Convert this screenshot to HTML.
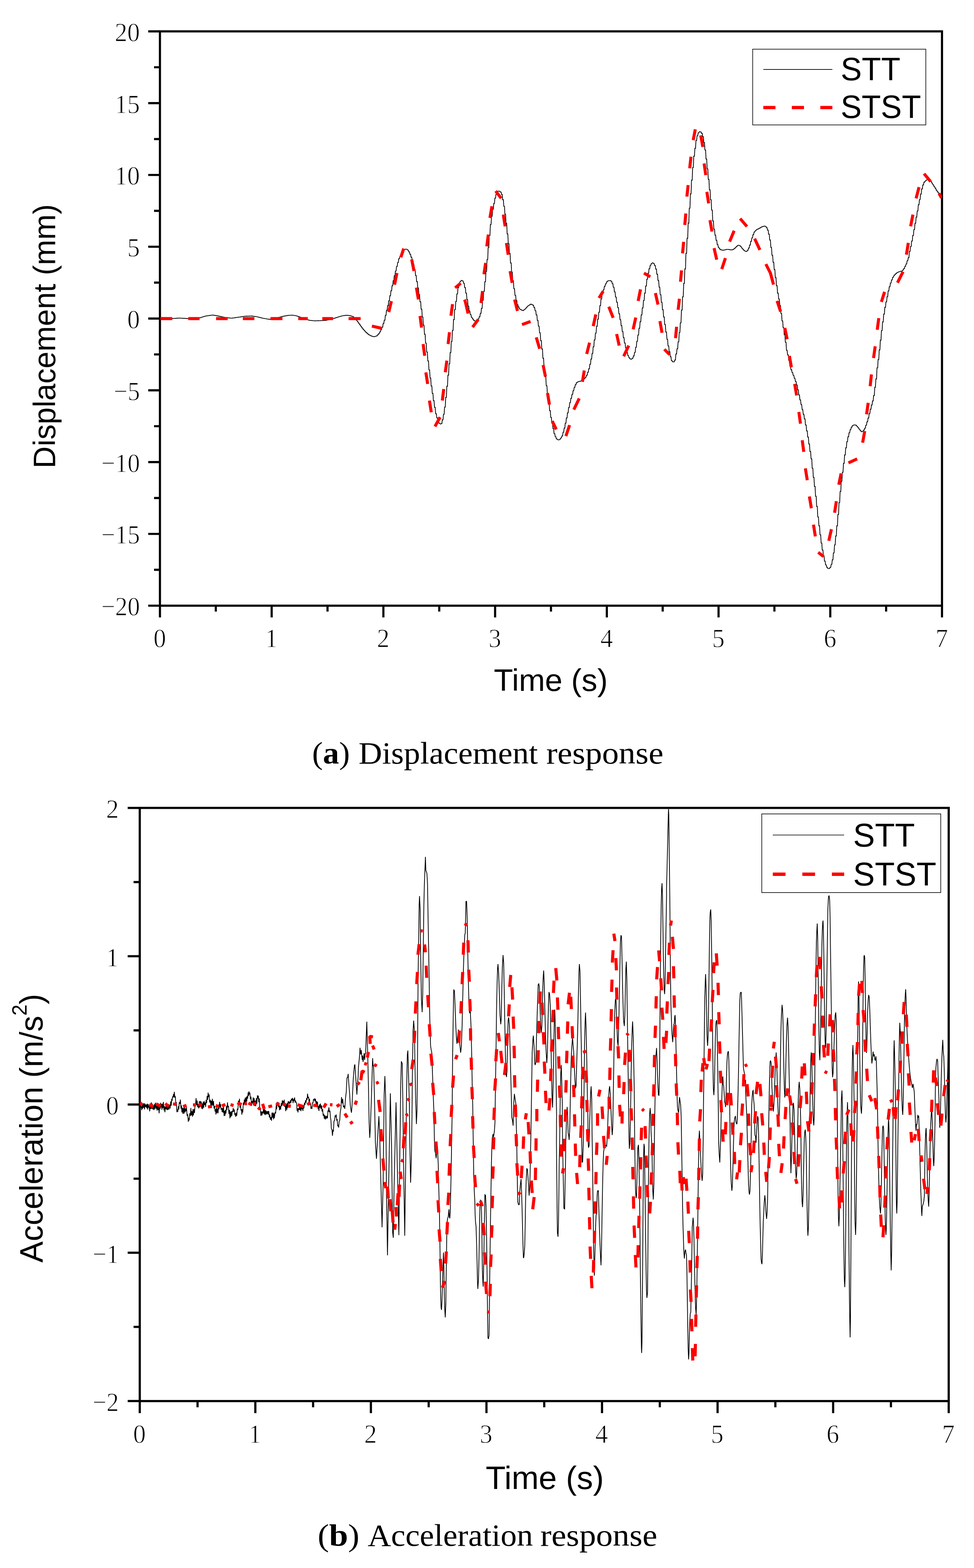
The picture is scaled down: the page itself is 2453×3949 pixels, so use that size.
<!DOCTYPE html>
<html lang="en"><head><meta charset="utf-8"><title>Displacement and acceleration response</title>
<style>
html,body{margin:0;padding:0;background:#fff}
body{width:2453px;height:3949px;overflow:hidden}
svg{display:block}
text{white-space:pre}
</style></head><body>
<svg width="2453" height="3949" viewBox="0 0 2453 3949">
<rect width="2453" height="3949" fill="#fff"/>
<defs><clipPath id="clipA"><rect x="402.8" y="79" width="1969.6" height="1446.4"/></clipPath><clipPath id="clipB"><rect x="352" y="2034.7" width="2037.3" height="1493.9"/></clipPath></defs>
<g id="chart-a">
<rect x="402.8" y="79.0" width="1969.6000000000001" height="1446.4" fill="none" stroke="#000" stroke-width="5.4"/>
<path d="M402.80 1525.4 V1554.9 M543.49 1525.4 V1540.2 M684.17 1525.4 V1554.9 M824.86 1525.4 V1540.2 M965.54 1525.4 V1554.9 M1106.23 1525.4 V1540.2 M1246.91 1525.4 V1554.9 M1387.60 1525.4 V1540.2 M1528.29 1525.4 V1554.9 M1668.97 1525.4 V1540.2 M1809.66 1525.4 V1554.9 M1950.34 1525.4 V1540.2 M2091.03 1525.4 V1554.9 M2231.71 1525.4 V1540.2 M2372.40 1525.4 V1554.9 M402.8 79.00 H373.3 M402.8 169.40 H388.0 M402.8 259.80 H373.3 M402.8 350.20 H388.0 M402.8 440.60 H373.3 M402.8 531.00 H388.0 M402.8 621.40 H373.3 M402.8 711.80 H388.0 M402.8 802.20 H373.3 M402.8 892.60 H388.0 M402.8 983.00 H373.3 M402.8 1073.40 H388.0 M402.8 1163.80 H373.3 M402.8 1254.20 H388.0 M402.8 1344.60 H373.3 M402.8 1435.00 H388.0 M402.8 1525.40 H373.3" fill="none" stroke="#000" stroke-width="5.4"/>
<g font-family='"Liberation Serif", "Times New Roman", serif' font-size="67.7" fill="#000" stroke="#fff" stroke-width="1.3" stroke-linejoin="round">
<text x="402.3" y="1629.5" text-anchor="middle" textLength="31.7" lengthAdjust="spacingAndGlyphs">0</text>
<text x="683.7" y="1629.5" text-anchor="middle" textLength="31.7" lengthAdjust="spacingAndGlyphs">1</text>
<text x="965.0" y="1629.5" text-anchor="middle" textLength="31.7" lengthAdjust="spacingAndGlyphs">2</text>
<text x="1246.4" y="1629.5" text-anchor="middle" textLength="31.7" lengthAdjust="spacingAndGlyphs">3</text>
<text x="1527.8" y="1629.5" text-anchor="middle" textLength="31.7" lengthAdjust="spacingAndGlyphs">4</text>
<text x="1809.2" y="1629.5" text-anchor="middle" textLength="31.7" lengthAdjust="spacingAndGlyphs">5</text>
<text x="2090.5" y="1629.5" text-anchor="middle" textLength="31.7" lengthAdjust="spacingAndGlyphs">6</text>
<text x="2371.9" y="1629.5" text-anchor="middle" textLength="31.7" lengthAdjust="spacingAndGlyphs">7</text>
<text x="352.3" y="103.8" text-anchor="end" textLength="63.4" lengthAdjust="spacingAndGlyphs">20</text>
<text x="352.3" y="284.6" text-anchor="end" textLength="63.4" lengthAdjust="spacingAndGlyphs">15</text>
<text x="352.3" y="465.4" text-anchor="end" textLength="63.4" lengthAdjust="spacingAndGlyphs">10</text>
<text x="352.3" y="646.2" text-anchor="end" textLength="31.7" lengthAdjust="spacingAndGlyphs">5</text>
<text x="352.3" y="827.0" text-anchor="end" textLength="31.7" lengthAdjust="spacingAndGlyphs">0</text>
<text x="352.3" y="1007.8" text-anchor="end" textLength="65.7" lengthAdjust="spacingAndGlyphs">−5</text>
<text x="352.3" y="1188.6" text-anchor="end" textLength="97.4" lengthAdjust="spacingAndGlyphs">−10</text>
<text x="352.3" y="1369.4" text-anchor="end" textLength="97.4" lengthAdjust="spacingAndGlyphs">−15</text>
<text x="352.3" y="1550.2" text-anchor="end" textLength="97.4" lengthAdjust="spacingAndGlyphs">−20</text>
</g>
<g clip-path="url(#clipA)">
<path d="M402.1 802.4H403.8L404.9 802.4H406.6L407.7 802.4H409.4L410.5 802.3H412.2L413.4 802.3H415.0L416.2 802.3H417.9L419.0 802.3H420.7L421.8 802.3H423.5L424.6 802.3H426.3L427.4 802.2H429.1L430.2 802.2H431.9L433.1 802.2H434.7L435.9 802.1H437.6L438.7 801.9H440.4L441.5 801.7H443.2L444.3 801.5H446.0L447.1 801.3H448.8L449.9 801.1H451.6L452.8 801.2H454.4L455.6 801.4H457.3L458.4 801.5H460.1L461.2 801.7H462.9L464.0 801.8H465.7L466.8 802.0H468.5L469.6 802.2H471.3L472.5 802.3H474.1L475.3 802.3H477.0L478.1 802.1H479.8L480.9 801.9H482.6L483.7 801.7H485.4L486.5 801.5H488.2L489.3 801.3H491.0L492.1 801.1H493.8L495.0 800.9H496.7L497.8 800.7H499.5L500.6 800.5H502.3L503.4 800.2H505.1L506.2 799.3H507.9L509.0 798.4H510.7L511.8 797.5H513.5L514.7 796.7H516.3L517.5 795.9H519.2L520.3 795.5H522.0L523.1 795.1H524.8L525.9 794.7H527.6L528.7 794.3H530.4L531.5 793.9H533.2L534.4 793.5H536.0L537.2 793.8H538.9L540.0 794.3H541.7L542.8 794.7H544.5L545.6 795.2H547.3L548.4 795.7H550.1L551.2 796.2H552.9L554.1 796.9H555.7L556.9 797.5H558.6L559.7 798.2H561.4L562.5 798.8H564.2L565.3 799.5H567.0L568.1 799.9H569.8L570.9 800.2H572.6L573.8 800.5H575.4L576.6 800.8H578.3L579.4 801.1H581.1L582.2 801.4H583.9L585.0 801.0H586.7L587.8 800.6H589.5L590.6 800.2H592.3L593.5 799.8H595.1L596.3 799.4H598.0L599.1 799.0H600.8L601.9 798.6H603.6L604.7 798.2H606.4L607.5 797.7H609.2L610.3 797.3H612.0L613.1 796.9H614.8L616.0 796.4H617.7L618.8 796.2H620.5L621.6 796.2H623.3L624.4 796.1H626.1L627.2 796.0H628.9L630.0 795.9H631.7L632.8 795.8H634.5L635.7 796.2H637.4L638.5 796.6H640.2L641.3 797.0H643.0L644.1 797.4H645.8L646.9 797.9H648.6L649.7 798.6H651.4L652.5 799.3H654.2L655.4 800.0H657.0L658.2 800.7H659.9L661.0 801.4H662.7L663.8 801.9H665.5L666.6 802.4H668.3L669.4 802.9H671.1L672.2 803.4H673.9L675.1 803.8H676.7L677.9 804.3H679.6L680.7 803.8H682.4L683.5 803.3H685.2L686.3 802.7H688.0L689.1 802.2H690.8L691.9 801.7H693.6L694.8 801.1H696.4L697.6 800.4H699.3L700.4 799.7H702.1L703.2 798.9H704.9L706.0 798.2H707.7L708.8 797.5H710.5L711.6 796.7H713.3L714.5 796.2H716.1L717.3 795.7H719.0L720.1 795.2H721.8L722.9 794.7H724.6L725.7 794.2H727.4L728.5 794.1H730.2L731.3 793.9H733.0L734.2 793.8H735.8L737.0 793.9H738.7L739.8 794.4H741.5L742.6 794.9H744.3L745.4 795.4H747.1L748.2 796.2H749.9L751.0 797.2H752.7L753.8 798.3H755.5L756.7 799.3H758.4L759.5 800.3H761.2L762.3 801.4H764.0L765.1 802.3H766.8L767.9 803.2H769.6L770.7 804.2H772.4L773.5 805.1H775.2L776.4 806.1H778.1L779.2 806.8H780.9L782.0 807.1H783.7L784.8 807.3H786.5L787.6 807.6H789.3L790.4 807.9H792.1L793.2 808.0H794.9L796.1 807.9H797.7L798.9 807.8H800.6L801.7 807.7H803.4L804.5 807.6H806.2L807.3 807.5H809.0L810.1 807.4H811.8L812.9 807.2H814.6L815.8 807.1H817.4L818.6 807.0H820.3L821.4 806.5H823.1L824.2 805.9H825.9L827.0 805.3H828.7L829.8 804.7H831.5L832.6 804.1H834.3L835.5 803.2H837.1L838.3 802.4H840.0L841.1 801.5H842.8L843.9 800.7H845.6L846.7 799.8H848.4L849.5 798.9H851.2L852.3 798.0H854.0L855.2 797.1H856.8L858.0 796.3H859.7L860.8 795.6H862.5L863.6 795.1H865.3L866.4 794.7H868.1L869.2 794.2H870.9L872.0 794.0H873.7L874.9 794.2H876.5L877.7 794.5H879.4L880.5 794.7H882.2L883.3 795.6H885.0L886.1 796.6H887.8L888.9 797.8H890.6L891.7 800.6H893.4L894.5 803.4H896.2L897.4 806.6H899.1L900.2 810.4H901.9L903.0 814.1H904.7L905.8 818.0H907.5L908.6 821.9H910.3L911.4 825.8H913.1L914.2 829.3H915.9L917.1 832.5H918.8L919.9 835.8H921.6L922.7 838.3H924.4L925.5 840.7H927.2L928.3 843.0H930.0L931.1 844.4H932.8L933.9 845.7H935.6L936.8 847.0H938.4L939.6 847.7H941.3L942.4 847.8H944.1L945.2 846.9H946.9L948.0 846.0H949.7L950.8 843.2H952.5L953.6 840.2H955.3L956.5 835.7H958.1L959.3 830.3H961.0L962.1 824.0H963.8L964.9 814.8H966.6L967.7 806.5H969.4L970.5 794.5H972.2L973.3 781.6H975.0L976.2 769.7H977.8L979.0 757.5H980.7L981.8 744.8H983.5L984.6 732.2H986.3L987.4 719.5H989.1L990.2 706.9H991.9L993.0 694.3H994.7L995.9 682.6H997.5L998.7 671.1H1000.4L1001.5 661.1H1003.2L1004.3 651.4H1006.0L1007.1 645.2H1008.8L1009.9 639.0H1011.6L1012.7 634.6H1014.4L1015.6 630.9H1017.2L1018.4 628.2H1020.1L1021.2 627.4H1022.9L1024.0 627.9H1025.7L1026.8 630.1H1028.5L1029.6 634.5H1031.3L1032.4 640.5H1034.1L1035.2 647.7H1036.9L1038.1 655.4H1039.8L1040.9 666.6H1042.6L1043.7 678.5H1045.4L1046.5 693.7H1048.2L1049.3 709.2H1051.0L1052.1 725.3H1053.8L1054.9 741.8H1056.6L1057.8 760.1H1059.5L1060.6 778.7H1062.3L1063.4 798.4H1065.1L1066.2 819.2H1067.9L1069.0 841.7H1070.7L1071.8 864.1H1073.5L1074.6 886.6H1076.3L1077.5 909.1H1079.1L1080.3 931.6H1082.0L1083.1 952.3H1084.8L1085.9 972.3H1087.6L1088.7 990.7H1090.4L1091.5 1009.0H1093.2L1094.3 1025.8H1096.0L1097.2 1041.8H1098.8L1100.0 1052.4H1101.7L1102.8 1061.4H1104.5L1105.6 1065.6H1107.3L1108.4 1067.9H1110.1L1111.2 1066.8H1112.9L1114.0 1057.3H1115.7L1116.9 1043.6H1118.5L1119.7 1025.4H1121.4L1122.5 1000.7H1124.2L1125.3 972.8H1127.0L1128.1 944.8H1129.8L1130.9 916.3H1132.6L1133.7 888.0H1135.4L1136.6 860.1H1138.2L1139.4 832.2H1141.1L1142.2 805.0H1143.9L1145.0 779.6H1146.7L1147.8 759.1H1149.5L1150.6 740.1H1152.3L1153.4 724.2H1155.1L1156.3 712.7H1157.9L1159.1 708.3H1160.8L1161.9 706.1H1163.6L1164.7 707.6H1166.4L1167.5 713.4H1169.2L1170.3 724.2H1172.0L1173.1 738.4H1174.8L1175.9 754.8H1177.6L1178.8 771.3H1180.5L1181.6 783.5H1183.3L1184.4 792.1H1186.1L1187.2 799.1H1188.9L1190.0 803.3H1191.7L1192.8 806.8H1194.5L1195.6 808.5H1197.3L1198.5 808.9H1200.2L1201.3 807.2H1203.0L1204.1 803.4H1205.8L1206.9 797.8H1208.6L1209.7 789.2H1211.4L1212.5 776.7H1214.2L1215.3 756.2H1217.0L1218.2 733.8H1219.8L1221.0 709.5H1222.7L1223.8 683.5H1225.5L1226.6 653.8H1228.3L1229.4 623.5H1231.1L1232.2 593.4H1233.9L1235.0 565.5H1236.7L1237.9 544.8H1239.5L1240.7 527.4H1242.4L1243.5 512.5H1245.2L1246.3 499.1H1248.0L1249.1 489.1H1250.8L1251.9 482.7H1253.6L1254.7 481.4H1256.4L1257.6 481.7H1259.2L1260.4 483.9H1262.1L1263.2 489.8H1264.9L1266.0 503.0H1267.7L1268.8 519.6H1270.5L1271.6 539.4H1273.3L1274.4 562.2H1276.1L1277.3 589.0H1278.9L1280.1 613.9H1281.8L1282.9 638.1H1284.6L1285.7 662.3H1287.4L1288.5 685.3H1290.2L1291.3 707.0H1293.0L1294.1 727.1H1295.8L1297.0 743.9H1298.6L1299.8 756.5H1301.5L1302.6 767.1H1304.3L1305.4 773.2H1307.1L1308.2 778.1H1309.9L1311.0 779.9H1312.7L1313.8 781.3H1315.5L1316.7 782.4H1318.3L1319.5 780.1H1321.2L1322.3 777.9H1324.0L1325.1 774.8H1326.8L1327.9 771.4H1329.6L1330.7 769.4H1332.4L1333.5 767.7H1335.2L1336.3 766.0H1338.0L1339.2 767.2H1340.9L1342.0 768.7H1343.7L1344.8 774.5H1346.5L1347.6 782.4H1349.3L1350.4 793.0H1352.1L1353.2 806.9H1354.9L1356.0 821.4H1357.7L1358.9 838.1H1360.5L1361.7 858.0H1363.4L1364.5 879.0H1366.2L1367.3 902.3H1369.0L1370.1 926.3H1371.8L1372.9 948.9H1374.6L1375.7 971.4H1377.4L1378.6 993.9H1380.2L1381.4 1014.6H1383.1L1384.2 1034.3H1385.9L1387.0 1051.4H1388.7L1389.8 1066.2H1391.5L1392.6 1079.5H1394.3L1395.4 1091.9H1397.1L1398.3 1099.6H1399.9L1401.1 1105.2H1402.8L1403.9 1107.4H1405.6L1406.7 1107.8H1408.4L1409.5 1106.4H1411.2L1412.3 1102.9H1414.0L1415.1 1098.0H1416.8L1418.0 1088.6H1419.6L1420.8 1078.2H1422.5L1423.6 1065.7H1425.3L1426.4 1052.8H1428.1L1429.2 1039.7H1430.9L1432.0 1026.4H1433.7L1434.8 1014.1H1436.5L1437.7 1003.3H1439.3L1440.5 993.3H1442.2L1443.3 983.9H1445.0L1446.1 975.6H1447.8L1448.9 968.8H1450.6L1451.7 963.8H1453.4L1454.5 961.9H1456.2L1457.4 960.7H1459.0L1460.2 960.2H1461.9L1463.0 959.5H1464.7L1465.8 958.0H1467.5L1468.6 956.2H1470.3L1471.4 953.7H1473.1L1474.2 950.1H1475.9L1477.0 945.3H1478.7L1479.9 937.8H1481.6L1482.7 928.8H1484.4L1485.5 917.3H1487.2L1488.3 904.3H1490.0L1491.1 890.3H1492.8L1493.9 873.2H1495.6L1496.7 856.0H1498.4L1499.6 839.4H1501.2L1502.4 821.8H1504.1L1505.2 803.7H1506.9L1508.0 786.4H1509.7L1510.8 769.5H1512.5L1513.6 752.9H1515.3L1516.4 740.8H1518.1L1519.3 730.1H1520.9L1522.1 721.3H1523.8L1524.9 714.9H1526.6L1527.7 709.8H1529.4L1530.5 707.4H1532.2L1533.3 706.6H1535.0L1536.1 706.8H1537.8L1539.0 708.2H1540.6L1541.8 714.2H1543.5L1544.6 723.4H1546.3L1547.4 735.1H1549.1L1550.2 748.1H1551.9L1553.0 761.1H1554.7L1555.8 774.9H1557.5L1558.7 790.2H1560.3L1561.5 805.1H1563.2L1564.3 820.0H1566.0L1567.1 834.9H1568.8L1569.9 850.2H1571.6L1572.7 863.9H1574.4L1575.5 876.3H1577.2L1578.4 887.5H1580.0L1581.2 895.6H1582.9L1584.0 901.1H1585.7L1586.8 904.2H1588.5L1589.6 904.5H1591.3L1592.4 902.2H1594.1L1595.2 896.5H1596.9L1598.1 887.6H1599.7L1600.9 874.6H1602.6L1603.7 859.6H1605.4L1606.5 843.6H1608.2L1609.3 826.8H1611.0L1612.1 810.0H1613.8L1614.9 793.0H1616.6L1617.7 775.5H1619.4L1620.6 756.9H1622.3L1623.4 738.3H1625.1L1626.2 720.2H1627.9L1629.0 703.1H1630.7L1631.8 688.2H1633.5L1634.6 676.8H1636.3L1637.4 668.4H1639.1L1640.3 663.6H1641.9L1643.1 662.0H1644.8L1645.9 663.9H1647.6L1648.7 669.0H1650.4L1651.5 677.7H1653.2L1654.3 690.8H1656.0L1657.1 706.2H1658.8L1660.0 723.4H1661.6L1662.8 742.4H1664.5L1665.6 761.1H1667.3L1668.4 779.8H1670.1L1671.2 798.3H1672.9L1674.0 817.4H1675.7L1676.8 836.3H1678.5L1679.7 854.6H1681.3L1682.5 871.4H1684.2L1685.3 885.6H1687.0L1688.1 898.3H1689.8L1690.9 908.1H1692.6L1693.7 911.3H1695.4L1696.5 911.2H1698.2L1699.4 906.8H1701.0L1702.2 891.5H1703.9L1705.0 878.4H1706.7L1707.8 860.9H1709.5L1710.6 837.4H1712.3L1713.4 813.1H1715.1L1716.2 781.1H1717.9L1719.1 747.5H1720.7L1721.9 713.7H1723.6L1724.7 677.2H1726.4L1727.5 638.0H1729.2L1730.3 600.2H1732.0L1733.1 562.0H1734.8L1735.9 524.4H1737.6L1738.8 488.2H1740.4L1741.6 453.7H1743.3L1744.4 421.9H1746.1L1747.2 393.3H1748.9L1750.0 373.5H1751.7L1752.8 353.5H1754.5L1755.6 341.6H1757.3L1758.4 334.6H1760.1L1761.3 331.6H1763.0L1764.1 332.5H1765.8L1766.9 336.0H1768.6L1769.7 344.3H1771.4L1772.5 359.0H1774.2L1775.3 377.6H1777.0L1778.1 400.5H1779.8L1781.0 425.4H1782.6L1783.8 451.8H1785.5L1786.6 477.8H1788.3L1789.4 503.1H1791.1L1792.2 529.1H1793.9L1795.0 556.5H1796.7L1797.8 577.4H1799.5L1800.7 592.3H1802.3L1803.5 605.3H1805.2L1806.3 616.0H1808.0L1809.1 623.1H1810.8L1811.9 627.0H1813.6L1814.7 629.0H1816.4L1817.5 629.8H1819.2L1820.4 630.0H1822.0L1823.2 629.7H1824.9L1826.0 629.1H1827.7L1828.8 628.2H1830.5L1831.6 628.1H1833.3L1834.4 628.3H1836.1L1837.2 628.8H1838.9L1840.1 629.3H1841.7L1842.9 629.2H1844.6L1845.7 628.3H1847.4L1848.5 626.5H1850.2L1851.3 624.0H1853.0L1854.1 621.0H1855.8L1856.9 618.5H1858.6L1859.8 617.6H1861.4L1862.6 618.8H1864.3L1865.4 621.4H1867.1L1868.2 625.1H1869.9L1871.0 628.3H1872.7L1873.8 631.0H1875.5L1876.6 632.9H1878.3L1879.5 633.2H1881.1L1882.3 630.2H1884.0L1885.1 624.8H1886.8L1887.9 617.2H1889.6L1890.7 607.8H1892.4L1893.5 599.1H1895.2L1896.3 591.0H1898.0L1899.1 584.4H1900.8L1902.0 581.1H1903.7L1904.8 578.5H1906.5L1907.6 577.0H1909.3L1910.4 575.7H1912.1L1913.2 574.2H1914.9L1916.0 572.5H1917.7L1918.8 571.0H1920.5L1921.7 570.0H1923.3L1924.5 569.5H1926.2L1927.3 570.2H1929.0L1930.1 573.2H1931.8L1932.9 579.5H1934.6L1935.7 589.8H1937.4L1938.5 604.5H1940.2L1941.4 623.2H1943.0L1944.2 642.9H1945.9L1947.0 660.8H1948.7L1949.8 679.0H1951.5L1952.6 698.7H1954.3L1955.4 719.2H1957.1L1958.2 738.3H1959.9L1961.1 753.2H1962.7L1963.9 769.3H1965.6L1966.7 789.6H1968.4L1969.5 808.2H1971.2L1972.3 825.4H1974.0L1975.1 843.2H1976.8L1977.9 861.9H1979.6L1980.8 882.3H1982.4L1983.6 893.8H1985.3L1986.4 907.6H1988.1L1989.2 921.7H1990.9L1992.0 931.0H1993.7L1994.8 938.4H1996.5L1997.6 945.4H1999.3L2000.5 952.9H2002.1L2003.3 960.9H2005.0L2006.1 969.8H2007.8L2008.9 981.9H2010.6L2011.7 994.6H2013.4L2014.5 1007.2H2016.2L2017.3 1018.7H2019.0L2020.2 1031.5H2021.8L2023.0 1043.7H2024.7L2025.8 1055.0H2027.5L2028.6 1070.3H2030.3L2031.4 1085.3H2033.1L2034.2 1100.8H2035.9L2037.0 1118.3H2038.7L2039.8 1137.0H2041.5L2042.7 1155.5H2044.4L2045.5 1179.4H2047.2L2048.3 1202.2H2050.0L2051.1 1225.0H2052.8L2053.9 1249.7H2055.6L2056.7 1275.5H2058.4L2059.5 1301.9H2061.2L2062.4 1324.3H2064.0L2065.2 1346.9H2066.9L2068.0 1367.6H2069.7L2070.8 1385.3H2072.5L2073.6 1400.0H2075.3L2076.4 1413.1H2078.1L2079.2 1422.6H2080.9L2082.1 1428.8H2083.7L2084.9 1431.9H2086.6L2087.7 1431.7H2089.4L2090.5 1428.8H2092.2L2093.3 1421.4H2095.0L2096.1 1409.8H2097.8L2098.9 1392.6H2100.6L2101.8 1372.4H2103.4L2104.6 1349.8H2106.3L2107.4 1324.3H2109.1L2110.2 1295.8H2111.9L2113.0 1265.9H2114.7L2115.8 1237.7H2117.5L2118.6 1212.0H2120.3L2121.5 1189.5H2123.1L2124.3 1167.0H2126.0L2127.1 1145.8H2128.8L2129.9 1127.8H2131.6L2132.7 1112.4H2134.4L2135.5 1100.0H2137.2L2138.3 1089.9H2140.0L2141.2 1081.9H2142.8L2144.0 1075.7H2145.7L2146.8 1071.8H2148.5L2149.6 1070.4H2151.3L2152.4 1070.2H2154.1L2155.2 1071.0H2156.9L2158.0 1073.9H2159.7L2160.9 1077.3H2162.5L2163.7 1081.1H2165.4L2166.5 1084.8H2168.2L2169.3 1087.3H2171.0L2172.1 1086.1H2173.8L2174.9 1083.2H2176.6L2177.7 1078.5H2179.4L2180.5 1070.9H2182.2L2183.4 1062.3H2185.1L2186.2 1052.7H2187.9L2189.0 1041.5H2190.7L2191.8 1030.8H2193.5L2194.6 1020.3H2196.3L2197.4 1009.8H2199.1L2200.2 996.2H2201.9L2203.1 975.3H2204.7L2205.9 954.2H2207.6L2208.7 926.4H2210.4L2211.5 905.5H2213.2L2214.3 881.2H2216.0L2217.1 856.8H2218.8L2219.9 832.6H2221.6L2222.8 810.7H2224.4L2225.6 791.0H2227.3L2228.4 774.0H2230.1L2231.2 760.4H2232.9L2234.0 747.1H2235.7L2236.8 732.8H2238.5L2239.6 722.3H2241.3L2242.5 712.9H2244.1L2245.3 705.1H2247.0L2248.1 698.6H2249.8L2250.9 694.4H2252.6L2253.7 691.0H2255.4L2256.5 688.5H2258.2L2259.3 686.2H2261.0L2262.2 685.1H2263.8L2265.0 683.9H2266.7L2267.8 683.2H2269.5L2270.6 682.6H2272.3L2273.4 680.1H2275.1L2276.2 676.3H2277.9L2279.0 670.6H2280.7L2281.9 664.6H2283.5L2284.7 656.4H2286.4L2287.5 648.7H2289.2L2290.3 633.1H2292.0L2293.1 620.9H2294.8L2295.9 607.1H2297.6L2298.7 593.0H2300.4L2301.6 578.1H2303.2L2304.4 562.5H2306.1L2307.2 546.7H2308.9L2310.0 531.4H2311.7L2312.8 515.8H2314.5L2315.6 502.9H2317.3L2318.4 488.8H2320.1L2321.2 475.7H2322.9L2324.1 465.8H2325.8L2326.9 459.0H2328.6L2329.7 456.1H2331.4L2332.5 453.6H2334.2L2335.3 451.9H2337.0L2338.1 451.4H2339.8L2340.9 453.9H2342.6L2343.8 456.8H2345.4L2346.6 461.1H2348.3L2349.4 465.4H2351.1L2352.2 469.6H2353.9L2355.0 474.0H2356.7L2357.8 479.0H2359.5L2360.6 483.2H2362.3L2363.5 486.4H2365.1L2366.3 490.1H2368.0L2369.1 494.3H2370.8L2371.4 497.7" fill="none" stroke="#000" stroke-width="1.9" stroke-linejoin="miter"/>
<path d="M404.0 802.4 L433.9 802.4 M474.1 802.4 L502.6 802.4 M544.2 802.4 L573.3 802.4 M611.6 802.4 L640.7 802.4 M681.2 802.4 L711.4 802.4 M751.1 802.4 L775.1 802.4 M811.7 802.4 L838.7 802.4 M877.9 802.4 L908.3 802.4 M936.6 821.2 L962.0 827.0 M979.1 786.0 L985.7 758.3 M993.7 717.0 L999.7 687.4 M1009.5 648.2 L1016.7 626.0 M1036.8 653.2 L1042.6 682.6 M1048.7 724.4 L1053.7 754.0 M1057.9 795.8 L1061.6 824.9 M1065.6 866.5 L1069.6 896.1 M1072.5 937.9 L1077.0 967.0 M1081.5 1008.8 L1086.2 1038.4 M1095.5 1074.1 L1108.2 1050.6 M1114.0 1008.8 L1117.5 979.7 M1121.4 937.4 L1125.4 908.3 M1128.6 866.5 L1132.0 836.8 M1135.7 795.3 L1139.7 765.9 M1146.3 724.9 L1160.3 713.3 M1169.6 754.8 L1171.7 758.8 L1178.8 789.7 M1190.2 824.1 L1204.5 804.6 M1211.4 763.3 L1215.3 733.1 M1218.8 690.8 L1223.0 662.2 M1225.9 620.4 L1229.9 590.8 M1233.9 549.0 L1238.9 519.4 M1248.4 481.0 L1262.2 499.5 M1267.5 540.5 L1272.2 570.2 M1275.4 612.0 L1279.9 641.6 M1284.7 682.9 L1289.9 712.5 M1296.0 754.3 L1303.2 783.1 M1314.6 817.5 L1336.2 809.6 M1350.6 849.7 L1359.1 878.3 M1367.8 919.3 L1373.7 948.4 M1378.9 989.9 L1383.7 1019.0 M1390.8 1060.3 L1400.9 1081.5 M1425.2 1098.4 L1434.5 1070.6 M1445.1 1031.7 L1458.8 1003.4 M1466.8 961.6 L1471.5 933.1 M1477.6 891.5 L1484.8 863.0 M1494.0 821.4 L1500.6 791.8 M1508.6 750.5 L1519.2 733.3 M1533.2 772.5 L1544.3 800.3 M1553.0 841.3 L1559.4 870.4 M1570.7 897.4 L1583.4 870.4 M1594.6 829.4 L1601.2 799.7 M1607.2 757.9 L1613.1 728.8 M1621.8 687.8 L1637.7 697.1 M1650.6 738.1 L1657.2 767.2 M1662.0 808.7 L1667.3 838.1 M1673.1 879.6 L1686.6 893.4 M1701.3 851.6 L1704.0 823.0 M1707.9 780.2 L1711.1 752.4 M1713.8 709.5 L1716.4 681.0 M1719.0 638.1 L1721.7 609.0 M1724.6 566.7 L1727.2 537.6 M1729.9 495.2 L1733.1 466.1 M1737.0 423.8 L1740.2 394.7 M1745.8 352.9 L1751.1 325.7 M1764.8 341.0 L1770.1 370.1 M1773.3 411.6 L1777.5 441.0 M1780.2 483.1 L1784.7 512.2 M1788.1 554.5 L1793.1 583.1 M1798.4 624.9 L1805.0 654.0 M1817.7 677.8 L1827.0 650.0 M1837.6 608.5 L1848.9 581.0 M1864.0 550.5 L1881.2 570.4 M1900.5 600.8 L1913.8 629.4 M1928.8 665.1 L1940.2 687.6 L1948.1 716.7 M1957.1 757.7 L1965.9 784.7 M1976.5 825.9 L1982.5 854.2 M1988.1 896.4 L1993.1 925.0 M2001.3 966.8 L2006.3 995.9 M2011.9 1037.4 L2015.9 1067.0 M2020.4 1108.8 L2024.3 1137.9 M2028.3 1179.7 L2033.1 1209.4 M2038.4 1250.4 L2043.4 1280.0 M2048.7 1321.3 L2053.4 1350.9 M2060.6 1391.1 L2074.1 1401.7 M2087.3 1362.0 L2093.9 1332.9 M2101.9 1291.4 L2106.3 1262.3 M2112.4 1220.7 L2118.3 1192.2 M2136.8 1165.7 L2158.7 1155.7 M2172.5 1114.9 L2177.8 1085.6 M2182.5 1043.5 L2186.5 1014.4 M2191.5 972.6 L2194.7 943.0 M2200.0 901.7 L2204.2 872.1 M2209.3 830.5 L2213.2 801.2 M2219.8 760.4 L2227.8 735.0 M2260.3 712.0 L2274.3 684.2 M2282.8 641.4 L2287.6 611.7 M2293.4 569.9 L2299.2 540.6 M2307.1 499.8 L2314.6 471.3 M2327.2 437.4 L2343.7 457.2 M2364.8 487.1 L2371.4 498.5" fill="none" stroke="#f00" stroke-width="7.6" stroke-linejoin="bevel"/>
</g>
<rect x="1895.6" y="123.8" width="436.0" height="190.8" fill="#fff" stroke="#000" stroke-width="1.6"/>
<path d="M1922.4 174.9 H2096.3" stroke="#000" stroke-width="1.6" fill="none"/>
<path d="M1922.4 270.8 H2096.3" stroke="#f00" stroke-width="8.2" stroke-dasharray="30.6 41.2" fill="none"/>
<text x="2117.2" y="201.9" font-family='"Liberation Sans", Arial, Helvetica, sans-serif' font-size="81" textLength="150.5" lengthAdjust="spacingAndGlyphs">STT</text>
<text x="2117.2" y="297.2" font-family='"Liberation Sans", Arial, Helvetica, sans-serif' font-size="81" textLength="202.3" lengthAdjust="spacingAndGlyphs">STST</text>
<text x="1387.2" y="1740" text-anchor="middle" font-family='"Liberation Sans", Arial, Helvetica, sans-serif' font-size="78" textLength="286.8" lengthAdjust="spacingAndGlyphs">Time (s)</text>
<text transform="translate(139.4 846.9) rotate(-90)" text-anchor="middle" font-family='"Liberation Sans", Arial, Helvetica, sans-serif' font-size="78" textLength="665.3" lengthAdjust="spacingAndGlyphs">Displacement (mm)</text>
</g>
<g font-family='"Liberation Serif", "Times New Roman", serif' font-size="79" fill="#000">
<text x="786.1" y="1922.5" textLength="94.99" lengthAdjust="spacingAndGlyphs">(<tspan font-weight="bold">a</tspan>)</text>
<text x="902.9" y="1922.5" textLength="451.81" lengthAdjust="spacingAndGlyphs">Displacement</text>
<text x="1375.67" y="1922.5" textLength="295.18" lengthAdjust="spacingAndGlyphs">response</text>
</g>
<g id="chart-b">
<rect x="352.0" y="2034.7" width="2037.3000000000002" height="1493.8999999999999" fill="none" stroke="#000" stroke-width="5.5"/>
<path d="M352.00 3528.6 V3559.0 M497.52 3528.6 V3544.2 M643.04 3528.6 V3559.0 M788.56 3528.6 V3544.2 M934.09 3528.6 V3559.0 M1079.61 3528.6 V3544.2 M1225.13 3528.6 V3559.0 M1370.65 3528.6 V3544.2 M1516.17 3528.6 V3559.0 M1661.69 3528.6 V3544.2 M1807.21 3528.6 V3559.0 M1952.74 3528.6 V3544.2 M2098.26 3528.6 V3559.0 M2243.78 3528.6 V3544.2 M2389.30 3528.6 V3559.0 M352.0 2034.70 H321.6 M352.0 2221.44 H336.4 M352.0 2408.18 H321.6 M352.0 2594.91 H336.4 M352.0 2781.65 H321.6 M352.0 2968.39 H336.4 M352.0 3155.12 H321.6 M352.0 3341.86 H336.4 M352.0 3528.60 H321.6" fill="none" stroke="#000" stroke-width="5.5"/>
<g font-family='"Liberation Serif", "Times New Roman", serif' font-size="67.7" fill="#000" stroke="#fff" stroke-width="1.3" stroke-linejoin="round">
<text x="351.1" y="3634.3" text-anchor="middle" textLength="31.9" lengthAdjust="spacingAndGlyphs">0</text>
<text x="642.1" y="3634.3" text-anchor="middle" textLength="31.9" lengthAdjust="spacingAndGlyphs">1</text>
<text x="933.2" y="3634.3" text-anchor="middle" textLength="31.9" lengthAdjust="spacingAndGlyphs">2</text>
<text x="1224.2" y="3634.3" text-anchor="middle" textLength="31.9" lengthAdjust="spacingAndGlyphs">3</text>
<text x="1515.3" y="3634.3" text-anchor="middle" textLength="31.9" lengthAdjust="spacingAndGlyphs">4</text>
<text x="1806.3" y="3634.3" text-anchor="middle" textLength="31.9" lengthAdjust="spacingAndGlyphs">5</text>
<text x="2097.4" y="3634.3" text-anchor="middle" textLength="31.9" lengthAdjust="spacingAndGlyphs">6</text>
<text x="2388.4" y="3634.3" text-anchor="middle" textLength="31.9" lengthAdjust="spacingAndGlyphs">7</text>
<text x="299.2" y="2060.1" text-anchor="end" textLength="31.9" lengthAdjust="spacingAndGlyphs">2</text>
<text x="299.2" y="2433.6" text-anchor="end" textLength="31.9" lengthAdjust="spacingAndGlyphs">1</text>
<text x="299.2" y="2807.1" text-anchor="end" textLength="31.9" lengthAdjust="spacingAndGlyphs">0</text>
<text x="299.2" y="3180.5" text-anchor="end" textLength="65.9" lengthAdjust="spacingAndGlyphs">−1</text>
<text x="299.2" y="3554.0" text-anchor="end" textLength="65.9" lengthAdjust="spacingAndGlyphs">−2</text>
</g>
<g clip-path="url(#clipB)">
<path d="M353.2 2783.2 L354.4 2789.3 L355.8 2785.8 L357.1 2795.7 L358.2 2783.2 L359.2 2792.3 L360.3 2779.6 L361.6 2790.0 L362.7 2778.0 L364.0 2793.9 L365.4 2779.7 L366.9 2788.2 L368.4 2781.8 L369.5 2790.9 L370.7 2779.7 L371.9 2794.3 L373.2 2780.6 L374.6 2789.7 L375.6 2785.7 L377.0 2799.0 L378.2 2785.0 L379.5 2792.8 L381.0 2776.3 L382.1 2792.6 L383.4 2779.6 L384.9 2794.2 L386.4 2784.7 L387.7 2795.9 L388.8 2780.8 L389.8 2792.8 L391.3 2777.2 L392.8 2792.1 L394.2 2784.6 L395.5 2797.0 L397.0 2778.6 L398.3 2795.6 L399.4 2783.3 L400.7 2803.8 L402.2 2786.8 L403.4 2793.3 L404.5 2777.3 L405.6 2789.0 L406.7 2780.4 L407.8 2795.3 L409.0 2779.7 L410.1 2790.9 L411.4 2775.1 L412.9 2796.4 L414.1 2785.6 L415.3 2801.2 L416.9 2786.3 L418.0 2793.6 L419.2 2784.1 L420.5 2795.6 L421.5 2784.5 L422.8 2795.4 L424.3 2780.7 L425.6 2794.5 L427.0 2782.0 L428.5 2791.6 L430.0 2773.8 L431.3 2784.8 L432.4 2767.4 L433.4 2772.7 L434.6 2761.3 L435.8 2763.8 L436.8 2755.7 L437.9 2763.7 L439.0 2749.8 L440.3 2764.4 L441.5 2760.6 L442.7 2778.7 L444.2 2777.2 L445.5 2801.0 L446.6 2794.0 L447.8 2800.2 L449.3 2785.8 L450.3 2794.1 L451.6 2775.9 L453.0 2779.9 L454.3 2769.4 L455.8 2792.0 L456.9 2783.7 L458.1 2801.5 L459.4 2789.6 L460.6 2805.3 L462.1 2790.0 L463.5 2804.9 L465.0 2786.6 L466.2 2801.3 L467.4 2791.8 L468.4 2798.4 L469.6 2788.2 L471.2 2810.4 L472.7 2805.8 L474.2 2825.1 L475.4 2815.4 L476.5 2821.8 L477.9 2803.6 L479.4 2810.4 L480.7 2790.2 L481.8 2809.3 L483.3 2798.3 L484.8 2812.3 L485.9 2793.2 L487.1 2809.0 L488.7 2793.0 L489.9 2803.0 L491.3 2780.4 L492.4 2781.3 L493.9 2765.7 L495.1 2783.9 L496.6 2771.8 L497.8 2788.4 L498.9 2780.6 L500.5 2791.7 L501.8 2773.4 L503.1 2789.0 L504.5 2772.7 L505.7 2782.6 L506.9 2774.5 L508.0 2792.1 L509.2 2779.2 L510.4 2793.5 L511.7 2774.5 L513.0 2790.0 L514.3 2773.1 L515.6 2782.9 L516.9 2776.8 L517.9 2787.9 L519.0 2770.1 L520.4 2778.2 L521.7 2760.0 L523.0 2769.9 L524.1 2751.8 L525.3 2763.1 L526.7 2756.2 L528.0 2776.6 L529.5 2769.8 L530.9 2785.2 L532.2 2772.1 L533.5 2785.2 L534.8 2767.4 L536.2 2784.3 L537.7 2772.7 L539.0 2791.6 L540.5 2785.2 L541.6 2799.4 L542.7 2793.3 L543.8 2806.8 L545.2 2788.8 L546.3 2803.7 L547.7 2791.5 L549.2 2803.7 L550.4 2781.8 L551.6 2793.7 L553.2 2775.0 L554.3 2789.2 L555.6 2780.9 L556.7 2794.5 L558.2 2790.8 L559.5 2800.8 L560.5 2790.1 L561.9 2802.1 L563.0 2787.6 L564.4 2810.8 L565.5 2797.8 L566.6 2809.9 L567.8 2795.3 L569.0 2804.4 L570.5 2785.3 L571.6 2795.2 L572.9 2776.4 L574.0 2788.6 L575.4 2785.2 L576.5 2805.5 L577.9 2795.2 L579.0 2816.5 L580.0 2799.7 L581.3 2813.3 L582.6 2798.7 L583.8 2810.3 L585.1 2797.7 L586.2 2800.5 L587.3 2790.5 L588.5 2799.8 L589.9 2794.0 L591.2 2806.7 L592.5 2805.0 L593.6 2812.6 L595.0 2802.1 L596.2 2810.3 L597.7 2793.3 L599.2 2794.4 L600.5 2772.0 L601.7 2783.0 L603.1 2767.2 L604.3 2789.7 L605.7 2779.3 L607.0 2797.1 L608.1 2793.2 L609.1 2807.2 L610.3 2793.7 L611.4 2801.8 L612.9 2776.7 L614.1 2782.7 L615.3 2769.0 L616.4 2779.7 L617.6 2764.4 L619.1 2780.7 L620.3 2762.6 L621.5 2774.1 L622.5 2759.7 L623.8 2766.8 L624.9 2751.4 L626.0 2760.1 L627.1 2748.5 L628.1 2756.3 L629.3 2752.1 L630.7 2768.4 L632.1 2762.1 L633.5 2785.0 L634.8 2773.1 L636.3 2779.1 L637.7 2763.7 L638.8 2779.1 L640.3 2765.9 L641.7 2785.8 L642.8 2771.8 L644.1 2785.8 L645.6 2765.6 L646.9 2780.0 L648.3 2758.6 L649.5 2766.7 L650.6 2759.5 L651.7 2776.2 L653.0 2766.5 L654.4 2791.7 L655.7 2792.2 L657.1 2810.3 L658.4 2798.9 L659.8 2809.1 L661.3 2799.1 L662.3 2804.1 L663.7 2792.2 L665.2 2806.1 L666.5 2793.0 L667.8 2808.4 L669.2 2796.1 L670.6 2806.9 L671.7 2798.5 L673.1 2805.5 L674.5 2798.2 L675.5 2807.0 L676.9 2798.2 L678.3 2814.2 L679.6 2806.9 L680.9 2820.0 L682.4 2813.5 L683.9 2822.6 L685.0 2802.2 L686.5 2814.9 L687.7 2801.8 L688.9 2819.0 L690.0 2803.9 L691.1 2815.9 L692.7 2800.6 L694.2 2804.2 L695.7 2782.8 L696.8 2793.6 L698.1 2776.8 L699.1 2784.6 L700.4 2775.7 L701.5 2788.4 L702.7 2777.3 L703.8 2796.3 L705.3 2785.5 L706.8 2794.7 L708.3 2778.4 L709.5 2785.7 L711.1 2770.9 L712.3 2782.1 L713.5 2772.8 L714.6 2785.3 L715.8 2769.5 L716.9 2787.3 L718.2 2782.9 L719.5 2798.4 L721.0 2779.7 L722.3 2795.5 L723.9 2777.7 L724.9 2783.2 L724.5 2790.2 L725.9 2773.2 L727.1 2779.2 L728.3 2774.7 L729.8 2780.5 L731.2 2771.0 L732.8 2777.6 L733.8 2767.0 L735.3 2771.6 L736.9 2765.0 L738.0 2778.1 L739.4 2769.5 L740.5 2771.2 L742.0 2764.2 L743.1 2777.1 L744.2 2772.9 L745.7 2775.6 L747.0 2778.3 L748.2 2797.7 L749.3 2791.4 L750.4 2801.6 L751.5 2791.3 L753.1 2795.2 L754.3 2784.1 L755.4 2796.1 L756.9 2788.1 L758.0 2798.4 L759.1 2786.8 L760.6 2793.4 L761.8 2789.9 L762.9 2797.8 L764.0 2787.0 L765.3 2791.4 L766.8 2777.2 L768.1 2782.7 L769.3 2771.3 L770.8 2777.3 L772.0 2765.6 L773.4 2770.2 L774.5 2754.4 L776.0 2765.7 L777.3 2762.6 L778.3 2775.8 L779.5 2767.6 L780.7 2782.8 L782.0 2778.9 L783.2 2792.7 L784.2 2786.9 L785.6 2792.8 L786.9 2777.5 L788.4 2777.3 L789.5 2768.3 L790.8 2771.2 L791.9 2766.5 L793.2 2773.9 L794.5 2767.2 L796.0 2781.2 L797.4 2773.1 L798.5 2780.8 L799.6 2775.0 L801.0 2793.4 L802.0 2785.8 L803.3 2797.9 L804.5 2781.6 L805.6 2790.1 L807.0 2779.3 L808.4 2792.9 L809.9 2784.2 L811.1 2799.3 L812.6 2793.3 L813.9 2810.3 L815.4 2805.4 L816.7 2817.5 L818.1 2808.5 L819.2 2819.5 L820.7 2810.7 L822.1 2817.3 L823.6 2810.2 L824.8 2816.5 L825.9 2796.5 L827.0 2800.0 L828.3 2788.8 L829.7 2801.1 L831.0 2797.3 L832.2 2814.1 L833.4 2821.1 L834.5 2841.8 L836.1 2845.1 L837.3 2860.5 L838.5 2846.9 L839.7 2848.2 L841.1 2823.2 L842.6 2822.0 L844.0 2809.2 L845.1 2813.7 L846.6 2806.9 L848.0 2822.3 L849.2 2818.4 L850.4 2835.1 L851.6 2834.1 L852.9 2839.7 L854.1 2824.8 L855.7 2821.3 L856.8 2802.0 L858.7 2790.5 L860.1 2763.1 L861.7 2778.6 L863.1 2767.7 L864.7 2787.5 L866.7 2785.5 L868.3 2792.5 L870.2 2765.7 L872.2 2748.8 L873.8 2714.7 L875.6 2713.1 L876.8 2704.6 L878.6 2731.0 L880.6 2754.8 L882.1 2782.5 L883.7 2794.4 L885.1 2802.4 L886.5 2786.5 L888.1 2750.8 L889.7 2717.1 L891.5 2695.2 L892.7 2683.3 L893.8 2680.8 L895.4 2705.2 L897.0 2729.0 L898.8 2756.7 L900.4 2729.0 L902.0 2711.1 L902.8 2687.3 L904.4 2671.4 L905.6 2657.5 L906.7 2638.7 L908.3 2655.6 L909.9 2644.6 L911.3 2659.5 L912.3 2669.4 L913.3 2658.5 L914.3 2674.4 L915.9 2663.5 L916.9 2652.6 L918.3 2669.4 L919.6 2653.6 L920.8 2653.6 L921.8 2623.8 L923.8 2573.0 L925.9 2649.7 L927.8 2729.1 L929.6 2826.5 L931.2 2865.6 L932.8 2839.7 L935.7 2755.6 L938.4 2665.1 L939.7 2684.1 L941.0 2686.8 L942.9 2755.6 L945.5 2879.4 L948.1 2918.5 L950.3 2879.4 L954.2 2811.1 L956.1 2852.9 L958.7 2958.7 L962.2 3091.0 L964.8 2985.2 L967.5 2755.6 L969.3 2710.1 L971.4 2768.8 L973.5 3011.6 L975.9 3161.6 L978.3 3011.6 L983.1 2753.4 L986.0 2879.4 L988.9 3104.2 L990.5 3117.5 L992.6 2985.2 L997.4 2776.2 L1000.5 2932.3 L1004.5 3110.8 L1006.6 2932.3 L1009.3 2729.1 L1010.8 2672.8 L1013.0 2678.8 L1014.3 2755.6 L1016.4 2932.3 L1019.3 3112.2 L1021.7 2932.3 L1024.3 2729.1 L1025.9 2655.0 L1027.2 2645.8 L1028.8 2702.6 L1031.0 2782.0 L1032.3 2892.6 L1034.1 2978.6 L1036.0 2919.0 L1037.6 2808.5 L1038.6 2702.6 L1040.2 2596.8 L1041.8 2570.4 L1043.7 2596.8 L1045.0 2676.2 L1046.8 2768.8 L1048.7 2831.0 L1050.3 2795.2 L1051.6 2649.7 L1052.9 2464.6 L1054.5 2358.7 L1055.6 2279.4 L1056.6 2256.9 L1058.2 2292.6 L1059.5 2411.6 L1061.4 2517.5 L1063.2 2549.2 L1064.6 2504.2 L1066.1 2385.2 L1067.5 2279.4 L1068.8 2226.5 L1069.8 2200.0 L1070.6 2180.0 L1071.4 2158.0 L1072.5 2192.0 L1075.1 2199.0 L1076.7 2226.5 L1078.0 2305.8 L1079.9 2411.6 L1081.2 2491.0 L1082.5 2570.4 L1084.4 2633.9 L1086.0 2644.4 L1087.3 2649.7 L1089.2 2702.6 L1091.0 2755.6 L1093.1 2808.5 L1093.9 2866.1 L1095.0 2897.9 L1097.1 2905.8 L1098.4 2917.2 L1099.7 2903.2 L1102.4 2904.5 L1103.7 2932.3 L1104.2 2958.7 L1105.6 3011.6 L1106.9 3064.6 L1107.7 3117.5 L1108.5 3170.4 L1109.0 3223.3 L1109.8 3263.0 L1110.8 3292.1 L1111.9 3299.2 L1113.2 3276.2 L1114.6 3223.3 L1115.9 3183.6 L1116.9 3154.5 L1118.0 3196.8 L1119.0 3263.0 L1120.4 3302.6 L1121.4 3318.0 L1122.8 3284.1 L1123.5 3223.3 L1124.3 3170.4 L1125.1 3117.5 L1126.2 3077.8 L1127.0 3069.8 L1128.8 3064.6 L1130.7 3045.5 L1131.7 3064.6 L1132.8 3068.5 L1134.1 3051.3 L1134.9 3011.6 L1136.0 2958.7 L1137.0 2905.8 L1137.8 2852.9 L1138.6 2813.2 L1139.9 2663.0 L1141.3 2570.4 L1142.3 2504.2 L1142.9 2493.1 L1144.4 2495.0 L1146.0 2530.7 L1147.9 2583.6 L1149.5 2612.7 L1150.8 2628.6 L1152.6 2610.1 L1154.2 2594.2 L1156.1 2596.8 L1157.9 2628.6 L1160.1 2651.1 L1161.9 2636.5 L1163.8 2583.6 L1165.3 2517.5 L1167.2 2438.1 L1169.0 2385.2 L1170.6 2353.4 L1171.7 2350.8 L1172.8 2305.8 L1173.5 2270.1 L1175.1 2270.1 L1176.5 2305.8 L1177.8 2385.2 L1179.1 2451.3 L1180.4 2504.2 L1181.7 2543.9 L1183.1 2551.9 L1184.4 2546.6 L1186.2 2583.6 L1187.8 2649.7 L1189.2 2729.1 L1190.5 2782.0 L1191.5 2852.9 L1192.3 2905.8 L1193.1 2958.7 L1194.4 2998.4 L1195.8 3024.9 L1196.6 3059.3 L1197.6 3077.8 L1198.9 3088.4 L1200.3 3130.7 L1201.6 3183.6 L1202.4 3223.3 L1203.4 3246.3 L1205.0 3223.3 L1206.3 3170.4 L1207.4 3104.2 L1208.7 3038.1 L1209.8 3022.8 L1211.4 3024.9 L1212.7 3051.3 L1213.8 3117.5 L1214.8 3196.8 L1216.1 3228.6 L1216.9 3240.5 L1218.0 3196.8 L1219.3 3117.5 L1220.4 3051.3 L1221.2 3009.0 L1222.8 3010.3 L1224.1 3038.1 L1225.1 3091.0 L1226.2 3170.4 L1227.2 3249.7 L1228.0 3315.9 L1228.8 3368.8 L1230.2 3372.0 L1231.7 3363.5 L1232.5 3302.6 L1233.3 3223.3 L1234.4 3143.9 L1235.4 3064.6 L1236.5 2998.4 L1237.6 2932.3 L1238.6 2892.6 L1239.7 2866.1 L1241.8 2856.1 L1243.1 2863.5 L1245.2 2847.6 L1246.6 2826.5 L1247.9 2729.1 L1249.2 2649.7 L1250.5 2543.9 L1251.9 2477.8 L1253.2 2438.1 L1254.2 2428.0 L1255.8 2451.3 L1257.7 2504.2 L1259.3 2557.1 L1261.1 2579.6 L1262.4 2565.1 L1263.8 2491.0 L1265.1 2438.1 L1266.9 2405.3 L1268.5 2424.9 L1269.8 2491.0 L1271.7 2596.8 L1273.0 2663.0 L1274.3 2702.6 L1275.7 2712.7 L1277.0 2694.7 L1278.3 2623.3 L1279.6 2570.4 L1281.0 2562.4 L1283.1 2583.6 L1284.9 2649.7 L1286.2 2702.6 L1287.6 2755.6 L1288.9 2813.8 L1290.7 2821.7 L1292.3 2834.9 L1293.7 2782.0 L1295.5 2755.0 L1297.4 2768.8 L1298.9 2778.0 L1299.0 2778.0 L1299.8 2813.2 L1301.2 2866.1 L1302.2 2932.3 L1303.3 2998.4 L1304.1 3027.5 L1305.9 3034.1 L1307.8 3033.6 L1309.1 3001.1 L1310.4 2985.2 L1312.3 2969.3 L1313.9 3011.6 L1315.4 3064.6 L1317.0 3130.7 L1318.1 3166.4 L1318.9 3168.3 L1320.2 3157.1 L1321.5 3138.6 L1322.6 3091.0 L1323.7 3024.9 L1325.0 2977.2 L1326.8 2942.3 L1328.4 2946.0 L1329.7 2964.0 L1331.3 2987.8 L1332.6 3011.1 L1334.0 2990.5 L1335.3 2948.1 L1336.3 2892.6 L1337.4 2839.7 L1338.7 2755.6 L1340.3 2649.7 L1342.2 2618.0 L1343.2 2608.2 L1345.1 2636.5 L1346.7 2676.2 L1347.7 2682.3 L1349.6 2676.2 L1350.9 2623.3 L1352.8 2557.1 L1354.1 2517.5 L1355.4 2479.9 L1357.0 2477.8 L1358.3 2485.7 L1359.9 2530.7 L1361.5 2578.3 L1363.1 2600.8 L1364.7 2583.6 L1366.2 2517.5 L1367.8 2464.6 L1369.2 2444.2 L1370.7 2477.8 L1372.3 2543.9 L1373.9 2610.1 L1375.5 2649.7 L1377.1 2677.5 L1378.7 2649.7 L1380.0 2583.6 L1381.3 2530.7 L1382.6 2498.4 L1384.2 2504.2 L1385.8 2530.7 L1387.1 2596.8 L1388.5 2676.2 L1390.1 2755.6 L1391.6 2789.4 L1393.2 2729.1 L1394.6 2649.7 L1395.9 2570.4 L1397.2 2542.6 L1398.5 2583.6 L1399.6 2649.7 L1400.6 2729.1 L1401.7 2808.5 L1401.4 2879.4 L1402.2 2958.7 L1403.0 3038.1 L1403.8 3104.2 L1405.4 3114.8 L1406.5 3077.8 L1407.5 3011.6 L1408.3 2932.3 L1409.6 2866.1 L1411.0 2755.6 L1412.3 2702.6 L1413.6 2682.3 L1414.9 2729.1 L1416.2 2782.0 L1416.5 2852.9 L1417.6 2919.0 L1418.9 2985.2 L1420.2 3043.4 L1422.1 3044.7 L1423.1 2985.2 L1424.2 2932.3 L1425.2 2866.1 L1427.1 2808.5 L1428.4 2787.8 L1429.7 2813.8 L1430.8 2854.2 L1431.9 2856.9 L1433.4 2870.9 L1435.0 2839.7 L1436.1 2782.0 L1437.4 2715.9 L1438.7 2663.0 L1440.1 2636.5 L1441.9 2612.7 L1443.5 2633.9 L1444.8 2649.7 L1446.1 2676.2 L1447.7 2715.9 L1449.3 2741.0 L1450.9 2734.4 L1452.5 2676.2 L1454.1 2623.3 L1455.4 2570.4 L1456.7 2504.2 L1458.0 2451.3 L1459.1 2428.0 L1460.7 2446.0 L1462.0 2517.5 L1463.3 2596.8 L1464.7 2676.2 L1464.9 2866.1 L1466.0 2927.0 L1467.3 2926.5 L1468.6 2892.6 L1469.7 2852.9 L1471.0 2729.1 L1472.3 2623.3 L1473.7 2570.4 L1474.7 2550.0 L1476.3 2596.8 L1477.9 2676.2 L1479.2 2755.6 L1480.5 2808.5 L1481.1 2874.1 L1482.1 2890.5 L1483.7 2884.7 L1485.0 2826.5 L1487.4 2755.6 L1488.7 2735.7 L1490.3 2768.8 L1491.1 2852.9 L1492.2 2919.0 L1493.0 2985.2 L1493.8 3051.3 L1494.6 3117.5 L1495.6 3170.4 L1496.4 3204.8 L1496.9 3212.7 L1497.7 3183.6 L1499.0 3130.7 L1500.4 3077.8 L1501.4 3059.3 L1502.8 3056.6 L1503.8 3011.6 L1504.6 3001.1 L1505.7 2998.4 L1507.0 2998.9 L1508.0 3038.1 L1509.6 3091.0 L1511.0 3130.7 L1512.3 3162.4 L1513.6 3186.8 L1514.9 3143.9 L1516.2 3064.6 L1517.6 2985.2 L1518.9 2932.3 L1520.2 2900.5 L1522.1 2889.9 L1526.0 2884.7 L1527.9 2886.8 L1529.2 2866.1 L1530.8 2826.5 L1532.6 2768.8 L1534.0 2745.0 L1535.3 2735.7 L1537.1 2755.6 L1538.7 2795.2 L1540.6 2839.7 L1541.9 2858.7 L1543.2 2839.7 L1544.6 2755.6 L1545.9 2676.2 L1547.2 2596.8 L1548.5 2543.9 L1549.8 2517.5 L1551.2 2514.8 L1552.5 2543.9 L1553.8 2583.6 L1555.1 2623.3 L1556.7 2633.9 L1557.8 2596.8 L1559.1 2543.9 L1560.4 2477.8 L1561.7 2411.6 L1562.5 2372.0 L1563.9 2355.3 L1565.2 2358.7 L1566.5 2411.6 L1567.8 2477.8 L1569.2 2530.7 L1570.5 2570.4 L1572.3 2584.1 L1573.7 2557.1 L1575.0 2491.0 L1576.3 2438.1 L1577.4 2421.7 L1578.7 2464.6 L1579.7 2543.9 L1580.8 2623.3 L1581.9 2702.6 L1583.2 2782.0 L1584.2 2866.1 L1585.0 2893.1 L1586.3 2879.4 L1587.7 2826.5 L1589.5 2702.6 L1590.8 2636.5 L1592.2 2591.5 L1593.2 2572.5 L1594.8 2610.1 L1596.1 2676.2 L1597.5 2755.6 L1598.5 2879.4 L1599.6 2945.5 L1600.6 2998.4 L1602.0 3017.5 L1603.0 3011.6 L1604.1 2972.0 L1605.4 2919.0 L1606.5 2889.9 L1608.0 2883.3 L1609.1 2919.0 L1610.2 2985.2 L1611.2 3051.3 L1612.0 3130.7 L1612.8 3210.1 L1613.9 3289.4 L1614.7 3355.6 L1615.4 3395.2 L1616.0 3407.4 L1616.8 3382.0 L1617.6 3302.6 L1618.4 3196.8 L1619.2 3091.0 L1619.9 2985.2 L1620.7 2919.0 L1621.8 2880.7 L1622.9 2887.3 L1623.9 2958.7 L1625.0 3038.1 L1626.0 3117.5 L1627.1 3196.8 L1628.1 3249.7 L1629.2 3268.8 L1630.8 3255.0 L1631.6 3170.4 L1632.4 3064.6 L1633.4 2958.7 L1634.5 2866.1 L1636.1 2805.8 L1637.4 2790.5 L1638.7 2808.5 L1639.8 2852.9 L1641.1 2874.1 L1642.2 2905.8 L1643.0 2958.7 L1644.0 2998.4 L1645.3 3020.9 L1646.7 2985.2 L1647.7 2905.8 L1648.5 2839.7 L1650.4 2729.1 L1651.7 2663.0 L1653.5 2639.2 L1655.1 2676.2 L1656.7 2729.1 L1658.3 2758.2 L1659.6 2758.7 L1661.0 2702.6 L1661.7 2623.3 L1662.5 2517.5 L1663.3 2438.1 L1664.1 2358.7 L1665.2 2279.4 L1666.2 2239.7 L1667.3 2224.3 L1668.4 2252.9 L1669.4 2319.0 L1670.5 2398.4 L1671.5 2451.3 L1672.6 2491.0 L1673.9 2503.7 L1675.0 2477.8 L1676.0 2411.6 L1677.4 2332.3 L1678.7 2252.9 L1678.6 2239.7 L1680.6 2160.0 L1682.2 2090.0 L1683.2 2050.0 L1683.7 2037.5 L1684.3 2050.0 L1685.0 2100.0 L1685.8 2170.0 L1686.6 2240.0 L1687.1 2279.4 L1687.9 2385.2 L1688.7 2464.6 L1689.7 2530.7 L1691.1 2570.4 L1692.4 2604.8 L1694.2 2624.6 L1695.6 2596.8 L1696.9 2579.6 L1698.2 2578.3 L1699.3 2559.8 L1700.3 2556.6 L1701.4 2583.6 L1702.2 2623.3 L1703.0 2663.0 L1704.0 2702.6 L1705.1 2755.6 L1706.1 2787.3 L1707.7 2797.9 L1709.3 2801.9 L1710.4 2776.7 L1711.4 2763.0 L1712.8 2774.1 L1714.1 2782.0 L1715.4 2808.5 L1716.2 2852.9 L1717.2 2919.0 L1718.3 2985.2 L1719.1 3038.1 L1719.9 3077.8 L1720.7 3104.2 L1721.5 3130.7 L1722.3 3151.9 L1723.6 3169.8 L1724.9 3151.9 L1726.5 3147.1 L1727.8 3157.1 L1728.9 3159.8 L1729.9 3196.8 L1730.7 3249.7 L1731.5 3302.6 L1732.3 3355.6 L1733.1 3395.2 L1734.2 3423.8 L1735.2 3408.5 L1736.3 3355.6 L1737.4 3323.8 L1738.4 3307.9 L1739.7 3305.3 L1740.8 3249.7 L1741.9 3196.8 L1742.6 3143.9 L1743.4 3091.0 L1744.5 3077.8 L1745.6 3066.7 L1746.6 3080.4 L1747.7 3117.5 L1748.7 3170.4 L1749.8 3223.3 L1750.8 3263.0 L1751.9 3294.7 L1753.2 3311.1 L1754.3 3276.2 L1755.3 3223.3 L1756.4 3143.9 L1757.5 3064.6 L1758.5 2985.2 L1759.6 2905.8 L1760.4 2866.1 L1761.4 2847.6 L1762.8 2874.1 L1764.1 2905.8 L1765.4 2932.3 L1766.7 2956.1 L1768.3 2973.8 L1769.6 2958.7 L1770.4 2905.8 L1771.2 2852.9 L1771.7 2782.0 L1772.8 2702.6 L1773.9 2596.8 L1774.9 2517.5 L1776.0 2477.8 L1777.0 2453.4 L1778.4 2491.0 L1779.7 2557.1 L1780.7 2610.1 L1782.1 2633.9 L1783.4 2610.1 L1784.4 2543.9 L1785.5 2464.6 L1786.6 2385.2 L1787.6 2319.0 L1788.7 2297.9 L1790.0 2290.5 L1791.1 2319.0 L1792.1 2385.2 L1793.2 2464.6 L1794.0 2543.9 L1794.8 2623.3 L1795.6 2689.4 L1796.6 2742.3 L1797.9 2758.2 L1799.3 2729.1 L1800.3 2676.2 L1801.4 2623.3 L1802.4 2583.6 L1803.8 2571.7 L1805.1 2569.6 L1806.1 2596.8 L1806.9 2649.7 L1807.7 2702.6 L1808.5 2755.6 L1809.3 2808.5 L1809.8 2874.1 L1811.2 2905.8 L1812.8 2927.8 L1813.8 2900.5 L1815.1 2866.1 L1815.9 2826.5 L1816.7 2782.0 L1817.8 2768.8 L1819.1 2729.1 L1820.4 2711.1 L1821.5 2731.7 L1822.5 2734.4 L1823.9 2755.6 L1825.2 2776.7 L1826.2 2778.0 L1827.3 2788.1 L1828.6 2755.6 L1829.7 2715.9 L1830.7 2676.2 L1832.1 2655.0 L1833.4 2649.2 L1834.4 2647.6 L1835.5 2668.3 L1836.3 2702.6 L1837.1 2755.6 L1837.9 2795.2 L1838.9 2879.4 L1840.3 2945.5 L1841.6 2979.9 L1843.2 2998.9 L1844.5 2985.2 L1845.6 2945.5 L1846.6 2905.8 L1847.7 2866.1 L1849.0 2826.5 L1850.3 2815.9 L1852.2 2810.6 L1853.5 2826.5 L1855.9 2831.2 L1856.9 2818.5 L1858.0 2782.0 L1859.0 2742.3 L1860.1 2689.4 L1861.2 2623.3 L1862.2 2570.4 L1863.3 2517.5 L1864.3 2501.6 L1865.7 2498.9 L1867.0 2499.5 L1868.0 2530.7 L1869.1 2570.4 L1870.2 2610.1 L1871.2 2649.7 L1872.3 2689.4 L1873.6 2697.4 L1874.7 2702.6 L1875.4 2715.9 L1876.5 2722.5 L1877.6 2721.2 L1878.1 2755.6 L1879.4 2782.0 L1880.7 2808.5 L1881.8 2852.9 L1883.1 2905.8 L1884.2 2945.5 L1885.2 2985.2 L1886.6 3003.7 L1887.6 3008.5 L1888.9 2998.4 L1890.0 2958.7 L1891.1 2905.8 L1892.1 2852.9 L1893.2 2782.0 L1894.5 2760.8 L1895.8 2747.6 L1896.9 2746.3 L1897.9 2768.8 L1899.3 2782.0 L1900.3 2808.5 L1900.8 2839.7 L1901.4 2859.5 L1902.7 2860.8 L1904.0 2878.0 L1905.3 2852.9 L1906.7 2826.5 L1908.0 2811.1 L1909.3 2815.9 L1910.4 2852.9 L1911.4 2905.8 L1912.5 2972.0 L1913.5 3038.1 L1914.6 3091.0 L1915.7 3130.7 L1916.7 3170.4 L1917.8 3179.6 L1919.1 3183.6 L1920.2 3157.1 L1921.2 3117.5 L1922.3 3077.8 L1923.6 3051.3 L1924.9 3024.9 L1926.2 3010.3 L1927.6 3024.9 L1928.9 3051.3 L1930.7 3069.8 L1932.1 3051.3 L1933.1 3024.9 L1933.9 2972.0 L1934.7 2919.0 L1935.5 2866.1 L1936.8 2782.0 L1938.1 2715.9 L1939.5 2673.5 L1940.8 2671.7 L1941.9 2676.2 L1942.9 2689.4 L1944.0 2737.0 L1945.0 2755.6 L1946.1 2776.7 L1947.7 2799.2 L1949.0 2782.0 L1950.3 2755.6 L1951.6 2715.9 L1953.0 2676.2 L1954.0 2663.0 L1954.8 2650.5 L1955.9 2676.2 L1956.9 2702.6 L1958.0 2742.3 L1959.0 2782.0 L1960.1 2808.5 L1961.4 2820.4 L1962.8 2808.5 L1964.1 2755.6 L1965.4 2676.2 L1966.7 2596.8 L1968.0 2557.1 L1969.6 2530.7 L1971.0 2543.9 L1972.3 2583.6 L1973.3 2649.7 L1974.4 2702.6 L1975.4 2742.3 L1976.5 2764.3 L1977.8 2742.3 L1979.2 2676.2 L1980.5 2623.3 L1981.8 2583.6 L1983.4 2563.0 L1984.7 2583.6 L1985.8 2623.3 L1986.8 2676.2 L1987.9 2729.1 L1988.7 2782.0 L1989.7 2821.7 L1990.3 2866.1 L1991.1 2919.0 L1991.9 2954.8 L1993.2 2919.0 L1994.5 2866.1 L1995.8 2826.5 L1997.1 2782.0 L1998.2 2777.5 L1999.8 2795.2 L2001.1 2852.9 L2002.4 2905.8 L2003.8 2945.5 L2005.1 2968.0 L2006.4 2958.7 L2007.7 2905.8 L2008.8 2852.9 L2010.1 2782.0 L2011.2 2742.3 L2012.8 2724.6 L2014.3 2742.3 L2015.4 2782.0 L2016.5 2821.7 L2017.2 2866.1 L2017.8 2932.3 L2018.8 2985.2 L2019.9 3024.9 L2021.2 3040.2 L2022.5 3011.6 L2023.6 2958.7 L2024.7 2905.8 L2025.7 2866.1 L2026.8 2850.3 L2028.1 2845.0 L2029.4 2866.1 L2030.5 2905.8 L2031.5 2972.0 L2032.6 3038.1 L2033.7 3091.0 L2034.7 3112.2 L2036.0 3091.0 L2037.4 3011.6 L2038.7 2905.8 L2039.5 2826.5 L2040.2 2755.6 L2041.3 2689.4 L2042.3 2663.0 L2043.1 2650.5 L2044.4 2676.2 L2045.8 2729.1 L2047.1 2782.0 L2048.4 2821.7 L2049.5 2834.4 L2050.8 2808.5 L2051.9 2729.1 L2052.9 2623.3 L2054.0 2517.5 L2055.0 2438.1 L2056.1 2372.0 L2057.1 2345.5 L2058.2 2325.7 L2059.3 2358.7 L2060.3 2438.1 L2061.4 2517.5 L2062.4 2596.8 L2063.5 2649.7 L2064.8 2670.1 L2066.1 2623.3 L2067.5 2543.9 L2068.8 2464.6 L2069.8 2385.2 L2070.9 2345.5 L2072.0 2324.3 L2072.8 2318.5 L2073.8 2345.5 L2074.9 2411.6 L2075.9 2491.0 L2077.0 2570.4 L2078.0 2623.3 L2079.4 2639.2 L2080.7 2596.8 L2081.7 2517.5 L2082.8 2438.1 L2083.9 2358.7 L2084.9 2292.6 L2086.0 2266.1 L2087.0 2256.9 L2088.1 2256.1 L2089.4 2266.1 L2090.5 2305.8 L2091.5 2385.2 L2092.6 2464.6 L2093.7 2543.9 L2094.7 2623.3 L2095.8 2689.4 L2096.8 2713.2 L2098.1 2702.6 L2099.5 2663.0 L2100.8 2623.3 L2102.1 2583.6 L2103.4 2557.1 L2104.8 2549.7 L2106.1 2570.4 L2106.9 2623.3 L2107.7 2702.6 L2108.5 2782.0 L2109.3 2879.4 L2110.1 2958.7 L2110.8 3024.9 L2111.6 3064.6 L2112.7 3088.4 L2113.8 3064.6 L2114.8 3011.6 L2115.9 2958.7 L2116.9 2905.8 L2118.0 2852.9 L2119.0 2768.8 L2120.4 2746.3 L2121.7 2782.0 L2122.5 2879.4 L2123.3 2958.7 L2124.1 3038.1 L2124.9 3117.5 L2125.7 3183.6 L2126.5 3223.3 L2127.5 3241.8 L2128.6 3210.1 L2129.4 3143.9 L2130.2 3064.6 L2131.0 2985.2 L2131.7 2905.8 L2132.5 2839.7 L2133.3 2808.5 L2134.4 2775.9 L2135.4 2808.5 L2136.2 2905.8 L2137.0 3011.6 L2137.8 3117.5 L2138.6 3196.8 L2139.4 3276.2 L2140.2 3329.1 L2141.0 3368.3 L2141.8 3329.1 L2142.3 3249.7 L2142.9 3170.4 L2143.4 3091.0 L2143.9 3011.6 L2144.4 2932.3 L2145.0 2852.9 L2145.5 2755.6 L2146.3 2689.4 L2147.1 2649.7 L2148.1 2631.7 L2149.2 2663.0 L2150.3 2729.1 L2151.1 2782.0 L2151.6 2879.4 L2152.1 2958.7 L2152.6 3024.9 L2153.4 3077.8 L2154.8 3110.1 L2155.8 3077.8 L2156.6 3011.6 L2157.4 2932.3 L2158.2 2852.9 L2159.0 2782.0 L2159.5 2676.2 L2160.6 2570.4 L2161.4 2491.0 L2162.2 2471.7 L2163.2 2504.2 L2164.3 2583.6 L2165.3 2663.0 L2166.4 2729.1 L2167.5 2782.0 L2168.8 2797.9 L2169.6 2804.8 L2170.6 2782.0 L2171.7 2702.6 L2172.8 2596.8 L2173.8 2504.2 L2174.9 2438.1 L2175.9 2409.0 L2176.7 2405.6 L2177.8 2411.6 L2178.8 2464.6 L2179.9 2543.9 L2181.0 2610.1 L2182.0 2651.9 L2183.1 2636.5 L2184.1 2596.8 L2185.2 2543.9 L2186.5 2517.5 L2187.8 2505.6 L2189.2 2512.2 L2190.5 2543.9 L2191.8 2583.6 L2193.1 2623.3 L2194.4 2655.0 L2195.8 2678.3 L2197.4 2665.6 L2198.9 2648.4 L2200.3 2660.3 L2201.6 2655.0 L2203.2 2668.3 L2204.5 2670.9 L2206.1 2660.3 L2207.1 2676.2 L2208.2 2715.9 L2209.3 2755.6 L2210.3 2808.5 L2211.1 2866.1 L2212.2 2932.3 L2213.2 2972.0 L2214.3 3011.6 L2215.6 3038.1 L2217.5 3056.1 L2218.5 3038.1 L2219.6 2985.2 L2220.6 2932.3 L2221.7 2879.4 L2222.8 2839.7 L2224.1 2834.9 L2225.4 2842.3 L2226.5 2905.8 L2227.5 2972.0 L2228.6 3024.9 L2229.6 3077.8 L2231.2 3110.1 L2232.3 3091.0 L2233.3 3038.1 L2234.4 2972.0 L2235.4 2905.8 L2236.5 2852.9 L2237.3 2826.5 L2238.1 2819.8 L2239.2 2852.9 L2240.2 2932.3 L2241.3 3011.6 L2242.3 3091.0 L2243.4 3157.1 L2244.4 3199.5 L2245.5 3157.1 L2246.3 3091.0 L2247.1 3011.6 L2247.9 2932.3 L2248.7 2852.9 L2249.5 2782.0 L2250.3 2702.6 L2251.1 2649.7 L2251.9 2620.1 L2252.9 2649.7 L2254.0 2702.6 L2255.0 2755.6 L2255.8 2808.5 L2256.3 2905.8 L2256.9 2985.2 L2257.7 3038.1 L2258.5 3056.1 L2259.5 3024.9 L2260.6 2932.3 L2261.4 2866.1 L2263.0 2755.6 L2264.0 2676.2 L2265.1 2610.1 L2266.1 2575.7 L2267.2 2596.8 L2268.3 2636.5 L2269.3 2689.4 L2270.4 2729.1 L2271.4 2768.8 L2272.5 2795.2 L2273.5 2807.9 L2274.6 2782.0 L2275.7 2715.9 L2276.7 2649.7 L2277.8 2570.4 L2278.8 2530.7 L2279.9 2504.2 L2281.0 2491.5 L2282.0 2517.5 L2283.1 2557.1 L2284.4 2596.8 L2285.7 2623.3 L2287.0 2649.7 L2288.4 2663.0 L2289.7 2681.5 L2291.0 2697.4 L2292.3 2707.9 L2293.7 2718.5 L2295.0 2725.1 L2296.3 2731.7 L2297.9 2739.7 L2299.5 2729.9 L2301.1 2739.7 L2302.6 2750.3 L2303.7 2782.0 L2304.8 2808.5 L2305.6 2826.5 L2306.9 2847.6 L2308.2 2831.7 L2309.5 2831.7 L2310.8 2815.9 L2311.6 2807.9 L2312.7 2813.2 L2313.8 2811.9 L2314.8 2839.7 L2315.9 2879.4 L2316.9 2919.0 L2318.0 2958.7 L2319.0 2998.4 L2320.1 3024.9 L2320.9 3051.3 L2321.7 3062.4 L2322.8 3038.1 L2324.9 3032.8 L2326.7 3024.9 L2328.0 3011.6 L2328.8 2958.7 L2329.6 2905.8 L2330.7 2866.1 L2331.7 2845.0 L2332.5 2841.0 L2333.3 2866.1 L2334.4 2905.8 L2335.4 2958.7 L2336.5 2998.4 L2337.8 3024.9 L2338.9 3038.6 L2339.9 3011.6 L2341.0 2958.7 L2342.1 2905.8 L2343.1 2852.9 L2344.4 2821.7 L2345.5 2803.2 L2346.6 2796.6 L2347.6 2816.4 L2348.4 2839.7 L2349.5 2879.4 L2350.5 2919.0 L2351.6 2937.0 L2352.6 2919.0 L2353.7 2879.4 L2354.8 2826.5 L2355.8 2729.1 L2357.1 2689.4 L2358.5 2673.5 L2359.8 2666.9 L2361.4 2670.9 L2362.4 2702.6 L2363.8 2742.3 L2365.1 2782.0 L2366.4 2834.9 L2366.9 2840.2 L2368.3 2808.5 L2369.6 2755.6 L2370.9 2702.6 L2372.2 2663.0 L2373.3 2636.5 L2374.3 2618.8 L2375.7 2649.7 L2377.0 2663.0 L2378.3 2702.6 L2379.6 2755.6 L2381.0 2808.5 L2382.3 2827.0 L2383.6 2808.5 L2384.9 2755.6 L2386.2 2715.9 L2387.6 2663.0 L2388.4 2623.3" fill="none" stroke="#000" stroke-width="1.9" stroke-linejoin="miter" stroke-miterlimit="3"/>
<path d="M352.7 2777.4 L358.5 2782.6 M375.7 2781.9 L386.3 2787.1 M392.9 2780.0 L404.8 2785.8 M416.2 2779.2 L425.2 2787.1 M435.8 2780.0 L444.5 2781.6 M461.2 2787.1 L469.6 2783.7 M486.0 2782.6 L493.4 2782.6 M500.1 2780.5 L508.0 2784.8 M523.9 2787.9 L533.7 2786.3 M543.2 2784.2 L551.6 2787.4 M559.0 2785.3 L567.5 2781.6 M580.7 2782.1 L588.1 2784.2 M597.9 2777.4 L608.5 2782.1 M615.7 2779.5 L622.0 2779.5 M625.7 2777.9 L633.7 2782.1 M636.8 2781.6 L645.3 2777.9 M650.1 2789.0 L655.3 2794.3 M661.4 2780.0 L665.4 2793.2 M676.0 2787.4 L685.2 2785.3 M695.6 2777.9 L703.0 2782.6 M712.0 2780.5 L719.4 2781.6 M724.9 2785.3 L732.3 2786.3 M712.3 2781.0 L719.4 2781.5 M725.4 2785.1 L732.3 2785.9 M749.6 2782.1 L764.5 2786.9 M773.8 2782.1 L781.7 2776.6 M788.9 2783.5 L799.8 2784.9 M815.1 2789.5 L821.4 2779.0 M831.0 2782.1 L837.3 2782.5 M847.8 2786.5 L855.8 2781.5 M868.3 2804.4 L874.6 2814.3 M881.5 2829.8 L888.5 2825.2 M894.4 2782.1 L898.0 2772.2 M900.0 2726.0 L906.0 2730.6 M908.7 2720.6 L911.9 2697.4 L918.5 2700.5 M917.2 2678.3 L924.3 2680.2 M925.1 2663.5 L927.8 2649.2 M932.3 2629.1 L931.2 2610.1 L939.2 2611.4 M938.4 2633.1 L942.3 2643.1 M942.3 2680.7 L948.9 2684.9 M947.1 2728.6 L953.7 2725.1 M953.4 2770.1 L957.4 2800.5 M1026.5 2772.2 L1030.4 2766.7 M1031.5 2732.5 L1038.1 2729.6 M1037.0 2692.6 L1040.7 2668.3 M1042.9 2626.5 L1044.7 2596.0 M1046.0 2552.6 L1047.6 2522.0 M1049.5 2478.6 L1051.3 2447.9 M1052.6 2404.5 L1055.6 2377.8 M1059.3 2344.2 L1064.6 2345.0 M1069.3 2378.6 L1071.4 2398.4 M1073.3 2432.0 L1074.6 2462.7 M1077.2 2506.1 L1079.1 2536.8 M1081.2 2579.6 L1083.3 2610.6 M1085.2 2653.7 L1088.4 2684.1 M1089.7 2727.2 L1092.3 2757.7 M1093.7 2800.5 L1095.2 2831.0 M1136.2 2813.0 L1138.1 2782.5 M1139.9 2739.2 L1142.1 2708.7 M1147.4 2667.7 L1151.3 2657.1 M1155.6 2626.5 L1157.1 2595.5 M1160.6 2552.4 L1161.9 2521.4 M1163.8 2478.6 L1165.3 2447.9 M1166.7 2404.5 L1168.0 2373.8 M1169.8 2326.5 L1177.0 2329.6 M1178.6 2368.0 L1179.4 2398.9 M1180.4 2442.1 L1182.0 2472.5 M1183.1 2516.1 L1184.4 2546.6 M1184.9 2589.7 L1185.4 2620.6 M1186.5 2663.5 L1187.6 2694.2 M1188.4 2737.6 L1189.7 2768.3 M1190.2 2811.1 L1191.3 2842.3 M1243.9 2820.6 L1245.2 2789.9 M1246.0 2746.8 L1248.1 2715.9 M1248.7 2672.8 L1250.8 2642.3 M1255.0 2601.6 L1257.7 2622.5 M1261.1 2646.6 L1264.3 2677.5 M1270.4 2707.4 L1274.3 2677.0 M1276.2 2633.9 L1277.8 2602.9 M959.5 2843.7 L961.6 2874.6 M964.3 2917.7 L966.9 2948.1 M969.3 2976.7 L971.4 2992.6 M975.9 2988.4 L978.0 3018.3 M982.0 3020.1 L984.1 3050.5 M987.8 3048.7 L989.9 3079.1 M993.9 3097.1 L995.8 3082.5 M998.4 3063.8 L997.4 3040.2 M1000.5 3035.4 L1002.6 3005.0 M1005.0 3014.3 L1006.3 2983.3 M1010.6 2969.3 L1007.7 2950.8 M1009.8 2921.7 L1015.9 2924.3 M1015.6 2892.1 L1017.7 2861.6 M1020.4 2856.9 L1021.7 2826.5 M1021.2 2809.3 L1027.8 2806.6 M1097.9 2874.9 L1100.3 2905.8 M1100.5 2948.7 L1102.4 2979.9 M1103.2 3022.8 L1105.0 3053.4 M1105.8 3096.3 L1108.2 3127.2 M1109.0 3170.4 L1111.1 3201.3 M1114.3 3243.1 L1120.1 3225.9 M1122.2 3182.3 L1124.1 3151.9 M1125.4 3108.7 L1127.0 3077.8 M1128.0 3034.7 L1130.2 3003.7 M1131.0 2960.8 L1132.3 2929.6 M1133.6 2886.8 L1135.4 2856.1 M1192.3 2885.2 L1194.2 2916.4 M1195.2 2959.3 L1197.6 2989.9 M1200.3 3036.2 L1206.1 3031.5 M1210.1 3024.3 L1214.8 3038.1 M1216.9 3079.9 L1219.6 3110.8 M1220.1 3154.0 L1222.2 3184.9 M1222.8 3227.8 L1225.4 3259.0 M1226.5 3304.0 L1232.8 3304.5 M1233.9 3264.3 L1234.9 3233.3 M1235.4 3190.7 L1236.8 3159.3 M1237.6 3116.7 L1239.2 3085.7 M1239.4 3042.6 L1240.5 3011.6 M1240.7 2968.5 L1242.1 2937.6 M1242.6 2894.4 L1243.7 2864.0 M1243.9 2820.6 L1245.0 2789.9 M1289.3 2486.5 L1291.1 2517.5 M1282.6 2529.4 L1280.8 2559.8 M1292.4 2560.3 L1293.8 2591.0 M1286.3 2455.3 L1283.7 2485.7 M1294.6 2633.9 L1295.6 2665.1 M1295.9 2707.9 L1296.7 2738.9 M1298.0 2782.0 L1299.0 2813.0 M1325.5 2803.7 L1323.1 2819.0 M1352.0 2823.8 L1352.0 2793.1 M1353.3 2749.7 L1354.1 2719.0 M1354.9 2676.2 L1355.7 2645.0 M1357.0 2602.1 L1357.5 2571.2 M1359.4 2528.0 L1360.7 2497.1 M1365.2 2525.4 L1366.8 2556.3 M1368.4 2599.5 L1369.9 2630.4 M1370.7 2673.5 L1372.3 2704.0 M1373.7 2747.1 L1375.2 2778.0 M1382.6 2796.6 L1385.0 2765.6 M1386.6 2722.5 L1387.7 2691.5 M1389.0 2648.4 L1390.3 2617.5 M1391.9 2574.3 L1393.2 2543.4 M1393.8 2500.8 L1395.3 2469.8 M1399.6 2438.1 L1402.5 2469.3 M1403.8 2512.2 L1405.1 2543.1 M1405.9 2586.2 L1407.0 2617.2 M1407.0 2660.3 L1408.0 2691.3 M1408.8 2733.9 L1410.4 2764.8 M1411.0 2807.9 L1411.7 2838.9 M1423.7 2825.1 L1424.4 2794.2 M1425.0 2751.6 L1426.0 2720.4 M1426.8 2677.5 L1427.9 2646.3 M1428.9 2603.4 L1430.0 2572.5 M1430.8 2529.4 L1434.2 2500.3 M1437.4 2510.3 L1439.0 2541.3 M1440.8 2584.4 L1442.2 2615.3 M1442.7 2658.5 L1443.8 2689.4 M1444.6 2732.3 L1445.6 2763.0 M1446.9 2806.3 L1447.7 2837.0 M1464.7 2791.5 L1465.7 2760.8 M1466.8 2717.7 L1468.6 2686.8 M1468.4 2650.5 L1475.8 2647.1 M1476.0 2696.0 L1477.4 2726.5 M1477.9 2770.1 L1478.9 2800.5 M1504.9 2834.9 L1504.9 2804.0 M1507.5 2761.4 L1511.0 2744.4 M1516.2 2786.8 L1518.1 2818.0 M1534.0 2793.1 L1534.0 2762.2 M1535.6 2719.8 L1536.3 2688.9 M1537.1 2645.8 L1538.2 2614.8 M1539.0 2572.2 L1539.8 2541.3 M1540.3 2498.1 L1541.4 2467.2 M1542.2 2424.3 L1544.0 2393.1 M1545.9 2351.3 L1548.8 2370.1 M1550.9 2413.0 L1552.5 2443.9 M1552.8 2487.0 L1553.5 2517.5 M1554.6 2560.6 L1555.4 2591.5 M1556.5 2634.7 L1558.0 2665.6 M1558.8 2708.5 L1559.4 2739.7 M1560.4 2782.5 L1562.5 2811.6 M1567.0 2798.9 L1566.5 2829.6 M1570.7 2755.6 L1571.8 2725.1 M1573.1 2682.0 L1575.2 2651.1 M1578.1 2607.1 L1582.9 2602.4 M1584.8 2643.9 L1586.3 2674.3 M1587.7 2717.2 L1588.7 2748.1 M1589.5 2791.3 L1590.6 2822.2 M1617.0 2792.9 L1621.8 2797.6 M1644.6 2835.4 L1644.6 2805.0 M1645.9 2761.6 L1646.9 2731.0 M1647.7 2687.6 L1648.5 2656.9 M1649.6 2614.0 L1650.9 2583.1 M1652.0 2539.9 L1652.8 2509.0 M1653.8 2466.4 L1655.9 2435.4 M1658.8 2393.7 L1661.2 2420.9 M1664.1 2463.8 L1666.2 2494.2 M1667.0 2537.8 L1669.2 2568.3 M1671.0 2611.4 L1672.6 2641.8 M1330.3 2825.7 L1332.1 2856.9 M1299.8 2856.1 L1300.9 2886.8 M1318.9 2862.2 L1317.6 2893.1 M1301.7 2929.6 L1303.8 2960.8 M1314.7 2935.7 L1312.8 2967.2 M1304.3 3007.1 L1311.0 3003.2 M1335.0 2899.7 L1336.1 2930.4 M1338.2 2973.3 L1340.3 3004.5 M1345.3 3014.8 L1341.6 3045.5 M1348.8 2940.7 L1348.3 2972.0 M1350.1 2866.9 L1349.8 2897.9 M1413.1 2882.0 L1413.6 2913.0 M1421.5 2868.0 L1421.3 2899.2 M1418.9 2942.1 L1416.8 2955.3 M1448.8 2880.2 L1449.8 2911.1 M1452.2 2954.0 L1454.6 2982.0 M1460.7 2908.5 L1459.9 2939.4 M1463.9 2834.4 L1462.5 2865.6 M1479.7 2843.7 L1480.5 2874.9 M1481.3 2917.7 L1482.4 2948.7 M1482.9 2991.3 L1483.7 3022.8 M1484.5 3065.3 L1485.3 3096.3 M1486.1 3139.4 L1487.4 3170.4 M1489.0 3213.2 L1490.8 3244.4 M1494.3 3204.8 L1495.1 3173.5 M1496.9 3130.7 L1497.5 3099.5 M1498.5 3056.6 L1499.0 3025.7 M1500.6 2982.5 L1501.2 2951.6 M1502.2 2908.5 L1503.5 2877.5 M1519.9 2860.8 L1522.6 2891.8 M1529.2 2911.1 L1526.8 2933.6 M1533.2 2836.5 L1531.3 2868.0 M1592.2 2864.8 L1593.0 2896.0 M1593.5 2938.9 L1594.3 2970.1 M1595.3 3013.0 L1595.9 3043.9 M1596.9 3086.5 L1598.3 3117.5 M1600.1 3160.6 L1601.7 3192.1 M1606.5 3166.9 L1607.2 3136.0 M1608.6 3092.9 L1609.4 3061.9 M1611.2 3019.0 L1611.7 2987.8 M1613.1 2945.0 L1613.9 2914.3 M1614.7 2871.4 L1616.0 2840.2 M1624.7 2836.2 L1625.8 2867.5 M1627.4 2910.3 L1628.7 2941.0 M1630.0 2984.4 L1631.1 3015.1 M1636.3 3056.1 L1638.2 3026.7 M1639.8 2983.3 L1641.1 2952.6 M1642.4 2909.3 L1643.5 2878.6 M1678.9 2596.0 L1677.0 2626.5 M1680.7 2522.0 L1679.4 2552.6 M1684.2 2447.9 L1682.3 2478.6 M1686.0 2374.1 L1684.7 2405.0 M1690.8 2318.3 L1688.7 2331.0 M1693.4 2359.3 L1696.1 2389.9 M1696.1 2433.3 L1697.1 2464.0 M1697.7 2506.9 L1698.5 2537.8 M1700.1 2581.0 L1700.6 2611.9 M1701.1 2654.5 L1701.9 2685.4 M1703.0 2728.6 L1704.3 2759.5 M1705.6 2802.4 L1706.4 2833.6 M1762.2 2824.3 L1764.3 2793.4 M1765.1 2750.3 L1766.2 2719.3 M1768.3 2698.7 L1770.4 2677.5 M1772.3 2664.8 L1774.9 2683.6 M1781.5 2679.4 L1778.1 2693.4 M1787.1 2641.0 L1785.5 2672.2 M1792.1 2567.2 L1790.3 2598.1 M1795.6 2493.1 L1793.7 2524.1 M1798.7 2423.5 L1797.1 2450.8 M1804.0 2401.1 L1806.1 2432.0 M1808.3 2475.1 L1809.3 2506.1 M1810.1 2549.2 L1811.2 2579.6 M1812.0 2622.8 L1813.3 2653.7 M1814.1 2696.8 L1815.7 2727.8 M1815.4 2770.6 L1817.2 2801.3 M1833.9 2752.1 L1830.5 2783.3 M1839.7 2752.9 L1841.9 2783.9 M1870.2 2779.4 L1868.0 2809.8 M1873.6 2705.3 L1872.3 2736.2 M1875.4 2684.7 L1882.1 2681.5 M1881.5 2730.4 L1884.2 2761.4 M1885.0 2804.5 L1886.0 2835.4 M1902.7 2798.4 L1900.6 2829.6 M1908.0 2724.6 L1904.0 2755.6 M1913.8 2729.9 L1916.5 2760.8 M1918.3 2803.7 L1921.0 2834.4 M1938.1 2793.4 L1945.6 2793.4 M1942.4 2788.1 L1943.2 2757.7 M1944.2 2714.6 L1946.1 2684.1 M1950.1 2623.8 L1947.7 2640.5 M1953.0 2661.1 L1955.6 2690.2 M1955.9 2733.1 L1957.5 2763.5 M1959.0 2806.6 L1960.6 2837.6 M1979.2 2787.8 L1977.3 2818.5 M1983.9 2741.0 L1981.8 2760.3 M1988.7 2759.0 L1992.4 2784.1 M2017.5 2759.5 L2015.1 2790.5 M2020.4 2686.0 L2019.1 2716.4 M2025.7 2678.0 L2027.3 2708.5 M2030.7 2749.5 L2032.1 2780.7 M1707.2 2876.7 L1708.8 2907.7 M1712.0 2948.7 L1713.3 2979.9 M1716.7 2972.0 L1717.8 2998.4 M1720.7 2964.6 L1723.3 2982.0 M1727.8 2968.5 L1729.9 2998.9 M1732.3 3026.2 L1733.7 3056.6 M1734.4 3099.7 L1736.0 3130.7 M1737.6 3173.8 L1738.4 3204.8 M1738.7 3247.6 L1740.5 3278.8 M1741.6 3321.7 L1742.6 3352.9 M1743.7 3395.2 L1744.8 3426.5 M1750.6 3415.9 L1751.4 3384.7 M1751.9 3341.5 L1752.7 3310.6 M1753.5 3267.7 L1754.3 3237.0 M1755.1 3193.7 L1756.1 3163.0 M1756.7 3119.6 L1757.2 3088.9 M1757.7 3046.0 L1758.8 3015.1 M1759.6 2972.0 L1760.1 2941.0 M1760.9 2898.4 L1761.4 2867.5 M1819.9 2844.4 L1821.2 2875.4 M1828.1 2825.7 L1826.8 2856.9 M1844.2 2827.0 L1845.8 2857.7 M1849.5 2901.1 L1850.3 2931.7 M1857.5 2952.9 L1855.1 2970.1 M1863.3 2921.7 L1861.7 2952.9 M1867.2 2852.9 L1864.9 2884.1 M1887.9 2878.6 L1890.5 2909.3 M1894.0 2934.4 L1891.3 2952.1 M1899.3 2872.8 L1897.7 2903.7 M1923.6 2877.5 L1924.9 2908.5 M1928.4 2951.3 L1931.0 2976.5 M1937.6 2913.8 L1935.5 2942.1 M1940.0 2839.7 L1938.9 2870.9 M1961.2 2880.7 L1963.0 2911.9 M1969.9 2929.6 L1966.7 2954.0 M1974.7 2861.6 L1973.3 2892.6 M1995.3 2827.0 L1997.1 2858.2 M1999.8 2901.1 L2001.4 2931.7 M2003.8 2969.3 L2007.2 2981.2 M2012.2 2907.1 L2010.4 2938.1 M2014.3 2833.6 L2013.5 2864.3 M2033.7 2823.8 L2037.4 2849.5 M2045.8 2725.7 L2044.4 2756.3 M2048.4 2651.9 L2047.1 2682.8 M2051.1 2577.8 L2050.3 2608.7 M2054.2 2504.2 L2052.9 2534.7 M2057.7 2430.2 L2055.8 2461.1 M2063.5 2409.8 L2066.1 2440.7 M2068.3 2483.9 L2070.1 2514.8 M2071.7 2557.7 L2072.2 2588.4 M2074.1 2631.7 L2076.2 2663.0 M2076.7 2698.7 L2083.3 2701.9 M2086.0 2628.0 L2084.7 2659.0 M2090.7 2554.5 L2089.4 2584.9 M2096.6 2569.0 L2098.1 2600.0 M2098.7 2643.1 L2100.5 2674.1 M2101.6 2717.2 L2102.6 2747.6 M2103.7 2790.5 L2104.5 2821.7 M2042.3 2799.2 L2040.2 2830.4 M2138.1 2794.4 L2132.3 2807.9 M2154.8 2772.2 L2152.1 2803.2 M2156.9 2698.7 L2156.1 2729.1 M2159.5 2624.6 L2157.7 2655.6 M2161.4 2551.1 L2160.6 2581.7 M2164.8 2477.2 L2162.4 2507.7 M2170.6 2470.4 L2172.0 2500.8 M2173.8 2543.9 L2176.5 2574.9 M2178.6 2618.0 L2179.6 2648.9 M2182.8 2691.5 L2184.7 2722.5 M2189.2 2758.2 L2195.8 2773.5 M2203.2 2765.3 L2207.7 2793.9 M2239.9 2792.6 L2236.8 2819.8 M2241.3 2774.6 L2248.1 2770.9 M2249.5 2788.6 L2251.3 2810.6 M2256.6 2788.6 L2254.8 2818.0 M2262.7 2743.7 L2260.6 2771.4 M2268.0 2671.4 L2266.7 2702.1 M2272.0 2597.6 L2271.2 2628.6 M2277.2 2523.5 L2275.1 2554.5 M2282.5 2555.3 L2284.1 2586.2 M2284.9 2629.1 L2287.0 2660.3 M2287.8 2703.2 L2289.7 2733.9 M2290.2 2776.7 L2292.3 2807.7 M2347.1 2769.6 L2346.0 2800.5 M2351.3 2695.5 L2350.5 2726.5 M2355.8 2713.8 L2359.3 2735.2 M2360.6 2778.6 L2363.8 2807.7 M2372.5 2804.5 L2369.6 2834.9 M2380.4 2732.5 L2376.5 2760.8 M2384.4 2724.3 L2388.4 2719.8 M2105.8 2864.8 L2107.1 2895.2 M2108.2 2938.9 L2109.3 2969.3 M2113.2 3013.0 L2114.3 3043.4 M2120.6 2997.9 L2119.8 3028.3 M2126.2 2924.3 L2123.5 2955.3 M2129.6 2850.3 L2127.5 2881.2 M2142.9 2829.1 L2144.2 2860.3 M2150.8 2846.3 L2148.7 2874.9 M2209.8 2837.0 L2211.1 2868.0 M2213.0 2911.1 L2214.0 2942.1 M2215.6 2985.2 L2216.4 3015.6 M2218.0 3058.7 L2219.6 3089.7 M2225.7 3085.7 L2223.8 3116.1 M2229.4 3011.1 L2228.0 3041.5 M2231.5 2937.0 L2231.0 2968.0 M2235.4 2863.5 L2233.6 2894.4 M2294.2 2850.8 L2296.3 2877.5 M2305.6 2856.3 L2302.4 2872.0 M2312.7 2842.9 L2314.8 2873.5 M2319.6 2909.8 L2322.2 2925.9 M2325.9 2968.5 L2329.4 2995.2 M2336.5 2989.7 L2334.4 3006.9 M2341.5 2916.9 L2340.5 2947.4 M2344.7 2843.7 L2342.9 2874.1" fill="none" stroke="#f00" stroke-width="7.8" stroke-linejoin="bevel"/>
</g>
<rect x="1918.5" y="2049.8" width="450.8000000000002" height="198.0999999999999" fill="#fff" stroke="#000" stroke-width="1.6"/>
<path d="M1946.3 2103 H2126" stroke="#000" stroke-width="1.6" fill="none"/>
<path d="M1946.3 2201.8 H2126" stroke="#f00" stroke-width="8.6" stroke-dasharray="32 42.4" fill="none"/>
<text x="2148.5" y="2132.0" font-family='"Liberation Sans", Arial, Helvetica, sans-serif' font-size="84" textLength="155.5" lengthAdjust="spacingAndGlyphs">STT</text>
<text x="2148.5" y="2230.4" font-family='"Liberation Sans", Arial, Helvetica, sans-serif' font-size="84" textLength="209.5" lengthAdjust="spacingAndGlyphs">STST</text>
<text x="1372.0" y="3749.8" text-anchor="middle" font-family='"Liberation Sans", Arial, Helvetica, sans-serif' font-size="81" textLength="297.7" lengthAdjust="spacingAndGlyphs">Time (s)</text>
<text transform="translate(106.5 2841.4) rotate(-90)" text-anchor="middle" font-family='"Liberation Sans", Arial, Helvetica, sans-serif' font-size="81" textLength="677" lengthAdjust="spacingAndGlyphs">Acceleration (m/s<tspan font-size="51" dy="-39.5">2</tspan><tspan dy="39.5">)</tspan></text>
</g>
<g font-family='"Liberation Serif", "Times New Roman", serif' font-size="79" fill="#000">
<text x="800.04" y="3892.8" textLength="105.24" lengthAdjust="spacingAndGlyphs">(<tspan font-weight="bold">b</tspan>)</text>
<text x="925.9" y="3892.8" textLength="416.31" lengthAdjust="spacingAndGlyphs">Acceleration</text>
<text x="1360.67" y="3892.8" textLength="294.76" lengthAdjust="spacingAndGlyphs">response</text>
</g>
</svg>
</body></html>
